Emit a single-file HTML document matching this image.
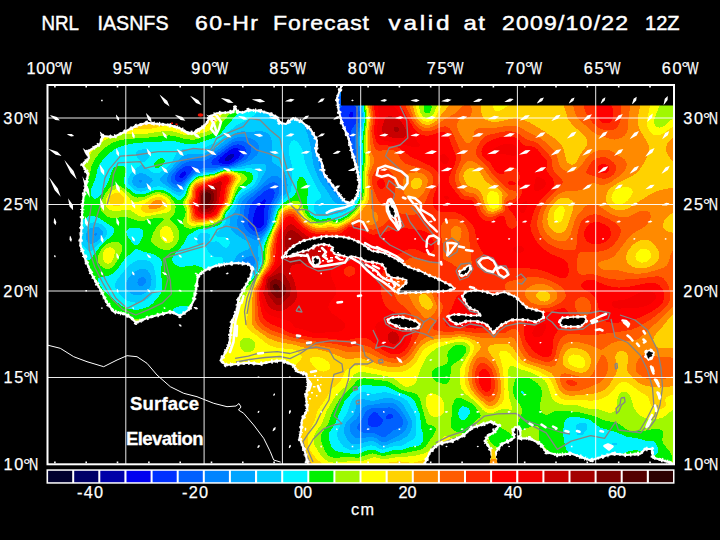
<!DOCTYPE html>
<html lang="en"><head><meta charset="utf-8"><title>NRL IASNFS 60-Hr Forecast Surface Elevation</title>
<style>html,body{margin:0;padding:0;background:#000;}body{width:720px;height:540px;overflow:hidden;}svg{display:block;}text{font-family:"Liberation Sans",Arial,sans-serif;fill:#fff;}.t{font-size:20px;stroke:#fff;stroke-width:.45px;}.a{font-size:16.3px;stroke:#fff;stroke-width:.25px;}.d{font-size:19px;stroke-width:.1px}.b{font-size:18.5px;font-weight:bold;stroke:#fff;stroke-width:.3px;}.g{stroke:#fff;stroke-width:1;fill:none;opacity:.92}.c{fill:none;stroke:#fff;stroke-width:2.1;stroke-linejoin:round;stroke-linecap:round}.k{fill:none;stroke:#858585;stroke-width:1.3;stroke-linejoin:round}.l{fill:#000}</style></head><body>
<svg width="720" height="540" viewBox="0 0 720 540">
<rect width="720" height="540" fill="#000"/>
<defs><clipPath id="m"><rect x="47" y="85" width="627" height="379"/></clipPath></defs>
<g clip-path="url(#m)">
<g shape-rendering="crispEdges" fill-rule="evenodd"><rect x="47" y="85" width="627" height="379" fill="#0000a8"/>
<path fill="#0000f0" d="M43 81l634 0l0 386l-634 0zM229 155l-4.2 4l0.7 2l3.1 0l2.4 -1.5l2.6 -2.5l0.9 -2l-1.5 -1.6z"/>
<path fill="#0030ff" d="M43 81l634 0l0 386l-634 0zM181 172.9l-1.4 2.1l-0.2 2l1.6 1.1l2.9 -1.1l1.6 -2l0.4 -2l-0.9 -1.6l-2 0.3zM233 148.4l-4.6 2.6l-7.5 6l-1.8 2l-0.8 2l1.4 2l5.3 1.4l4 -0.5l5.7 -2.9l4.5 -4l1.8 -4l-0.2 -2l-1.5 -2l-2.3 -1zM265 199l-4 2.9l-2.9 3.1l-2.4 4l-1.3 4l-1.4 6l0.2 4l1.8 3.3l2 1.4l2 0.4l3.1 -1.1l1.7 -2l0.7 -2l-0.2 -14l1.4 -8zM339 144.4l-2 2.8l-1.3 3.8l-0.7 4l0.1 4l0.8 4l1.7 4l1.4 2.2l2 1.6l2 0.4l2 -1.2l4 -5.9l0.8 -3.1l-0.3 -4l-2.5 -7.5l-2 -3.7l-2 -2l-2 -0.4zM351 111.6l-1.3 1.4l-0.7 2l0.3 2l1.7 1.3l2 -1.3l0.5 -2l-0.5 -2.7z"/>
<path fill="#0060ff" d="M43 81l634 0l0 386l-634 0zM185 166.4l-6 3.9l-3.7 4.7l-0.7 2l0.1 2l2.3 2.8l2 0.5l2 -0.3l4 -2.6l8.5 -10.4l0.7 -2l-3.2 -1.5zM235 144.6l-6 2.8l-15.2 11.6l-1.8 2l-0.8 2l1.6 2l12.2 0.9l4 -0.3l6.6 -2.6l6 -4l2 -2l2.1 -4l-0.2 -4l-1.2 -2l-2.9 -2l-2.4 -0.6zM269 188.8l-4 2l-9.5 8.2l-3.7 4l-2.1 4l-1.8 10l0 6l1.1 3l2 2.9l4 2.8l2 0.4l4 -0.8l4 -3.4l1.4 -2.9l1 -4l1.2 -12l1.2 -4l4 -8l0.9 -4l-0.3 -2l-1.4 -2l-2 -0.5zM343 104.8l-3.3 4.2l-6.7 18.2l-4 15.8l-0.8 12l1.5 10l1.3 4l3 6l3 4.6l4 4.6l4 2.6l2 0.2l2 -0.8l2 -3.2l-0.8 -10l3 -8l0.7 -4l-0.4 -6l-2.7 -14l-0.3 -8l1.5 -4l3 -4.2l2 -4.7l0.7 -7.1l-0.8 -4l-1.9 -2.8l-2 -1.6l-4 -1.4l-2 0zM373 412.4l-2.9 2.6l-1.9 4l-0.5 4l0.8 2l2.5 1.5l2 0.4l4 0l2 -0.6l2 -1.3l1.3 -2l0.8 -2l-0.2 -2l-1.9 -1.5l-4 -4.8l-2 -0.7zM387 415l-1.3 2l1 2l4.3 -0.5l2.6 -1.5l-0.5 -2l-2.1 -1.3l-2 0.1z"/>
<path fill="#0084ff" d="M43 81l634 0l0 386l-634 0zM237 140.9l-4 1.3l-4 2.3l-10 7.6l-14 8.6l-4 0.8l-10 -0.5l-4 0.9l-4 1.9l-6 5l-5.2 6.2l-1.2 4l0.5 2l1.5 2l2.4 1.7l4 0.8l4 -2l10 -10.3l10 -5.1l4 -0.4l6 0.6l8 -1.2l8 -0.2l6.3 -1.9l8.2 -4l2.7 -2l3.7 -4l1.6 -4l-0.6 -4l-1.9 -2.7l-4 -2.6l-4 -1zM271 182.6l-6 3.4l-15.4 13l-2.6 2.7l-1.8 3.3l-2.5 16l0.6 4l2.2 4l1.8 2l3.7 2.9l4 1.8l2 0.1l4 -1.6l4 -3.6l2 -2.8l2 -5.7l2.7 -15.1l7.1 -14l0.7 -4l-0.9 -4l-1.6 -1.8l-2 -0.9zM335 96.8l-3.5 2.2l-3.3 4l-1.9 4l-1.6 6l-1.2 10l-0.8 14l-0.2 12l0.7 10l1.1 6l1.9 6l5.4 10l4.4 6l3.6 4l3.4 2.3l4 0.7l2 -0.6l3.2 -2.4l1.4 -2l1.4 -4l0.3 -4l-1.9 -8l2.5 -8l0.6 -6l-2 -20l1.1 -6l3.6 -12l0.5 -4l-0.2 -6l-0.5 -2.7l-2 -4l-2 -2.4l-4 -3.1l-4 -2l-4 -1l-4 -0.1zM371 408.4l-4.4 2.6l-1.6 2.1l-4 7.7l-3.1 4.2l-0.7 2l0.3 2l1.5 2l4 1.5l12 0.9l8 4l2 -0.2l8 -6.5l6 -2.4l2 -1.1l1.8 -2.2l0.7 -2l-0.7 -4l-5.8 -8l-4 -2.8l-4 -0.8l-6 0.6l-6 -0.5z"/>
<path fill="#00a4ff" d="M43 81l634 0l0 386l-634 0zM95 232.8l-1.2 2.2l1.2 0.8l2.1 -0.8l0 -2zM139 180.7l0 0.9l2 1.4l1.8 -2l-1.8 -1.2zM143 277l-2 0.3l-2 1.3l-1.4 2.4l-0.3 2l1.7 2.7l2 0.5l2 -0.4l2.7 -2.8l0.4 -2l-0.5 -2zM239 136.7l-6 2.1l-16 11.7l-12 6.3l-4 1l-12 -0.1l-6 2.5l-4 3.2l-10.9 11.6l-1.5 4l0.3 2l1.3 2l4.8 4l4 1.7l2 0.1l2 -0.8l2 -1.8l10 -11l6 -3.2l6 -1.6l8 -0.2l8 -2l8 -0.3l4.5 -0.9l9.5 -3.1l9.6 -4.9l4.5 -4l2.1 -4l0.2 -4l-1.8 -4l-2.6 -2.4l-6 -2.8l-6 -1.3zM271 176.6l-4 2.5l-10 10.2l-12 8.8l-2.8 2.9l-1.5 4l-0.7 8l-3.5 8l0.4 4l1 2l3 4l6.1 4.9l8 4.2l2 -0.2l4 -2.6l4 -4.2l2.8 -4.1l3 -8l1.8 -10l1.3 -4l7.4 -12l1.7 -4l0.6 -6l-0.6 -2.8l-2 -3.6l-4 -2.6l-2 -0.3zM331 86.9l-6 1.9l-5.6 4.2l-3.9 6l-1.8 6l-0.4 10l4.7 44l1.6 8l2.1 6l3 6l4 6l6.3 8.5l4 4l4 1.9l4 0.2l4 -2.1l2 -1.8l3.1 -4.7l1.2 -4l0.2 -8l-1.6 -6l2.4 -10l0.2 -6l-1.4 -18l3.9 -18.3l0 -10.5l-1.4 -5.2l-2.6 -4.5l-4 -4.8l-4 -3.4l-4 -2.6l-4 -1.8l-6 -1.2zM385 402.8l-18 2.7l-4 2l-2 2.8l-3.1 6.7l-1.7 2l-5.1 4l-1.1 2l-0.4 2l0.4 4l3 5l2 1.6l4 0.9l10 -1.4l4 0.1l4 1.4l4 3.1l2 0.7l4 -1l12.8 -6.4l5.2 -4l2.2 -4l0.6 -4l-0.3 -2l-1.8 -4l-5.2 -8l-3.5 -3.9l-2 -1.2l-4 -1.2zM247 256.9l-4 2.9l-2 2.9l-0.7 2.3l-0.1 2l0.8 2.4l1.5 1.6l2.5 0.8l4 -0.6l2 -1.2l2 -2.3l1.9 -4.7l0 -4l-1.9 -2.6l-2 -0.5z"/>
<path fill="#00ccff" d="M43 81l269 0l-7.2 8l-4.6 8l-1.9 8l0.1 4l0.8 4l8.7 22l2.8 12l2.7 18l4.4 12l3.4 6l6 8l6 10l2.6 2l3.2 1.4l6 1.3l4 -1.4l4 -3.8l4 -5.8l2 -5.5l0.5 -8.2l-1.4 -8l1.9 -10l0.3 -8l-1.2 -14l0.3 -4l2.2 -10l1.1 -12l-1 -8l-2.7 -7.1l-6 -9.3l-9.3 -9.6l333.3 0l0 386l-634 0zM95 226.7l-4 1.3l-2 1.4l-2 2.4l-1.2 3.2l0.3 4l0.9 2l2 2.3l2 0.8l2 -0.3l4 -2.6l4 -3.6l1.6 -2.6l0.4 -2l-0.5 -2l-1.4 -2l-2.1 -1.5zM137 174.1l-3.4 2.9l-1.6 4l0.3 2l1.3 2l3.4 2.4l4 0.9l4 -0.7l4.2 -2.6l3.5 -4l-0.4 -2l-7.3 -5.1l-4 -0.9zM237 132.3l-6 3.6l-14 11.1l-12 6.2l-4 1.1l-12 -0.5l-6 2l-4 3.3l-6.8 7.9l-12.4 12l0.4 2l5.1 4l9.7 6.1l4 1.2l2 -0.6l2 -2.1l4.5 -6.6l5.3 -6l2.2 -1.6l4 -1.8l6 -1.5l10 -0.7l6 -2.2l8 -0.4l10 -1.6l16 -3.7l8 0l3.2 1.5l0.4 2l-1.1 4l-6.6 12l-3.9 4.5l-12 8.1l-3.5 3.4l-1.8 4l-1.4 6l-1.3 2.4l-3.9 3.6l-1.2 4l-0.5 6l1.6 4.2l6 5.9l12 7.6l1.8 2.3l-0.1 2l-1.7 1.9l-8 3.4l-3.5 2.7l-2.5 3.7l-1.8 4.3l-1 6l1.1 4l1.4 2l2.3 1.7l4 0.9l4 -0.5l6 -2.7l3.5 -3.4l2.2 -4l1.5 -4l0.6 -4l-1 -8l0.3 -4l1.8 -4l9.2 -14l3.1 -8l2.7 -12l2.1 -4l8.9 -12l1.3 -4l0.4 -4l-0.6 -6l-2 -6l-4 -4.9l-7.6 -5.1l-1.5 -2l0.2 -18l-1.1 -5.1l-2 -3.5l-4 -2.6l-4 -0.6l-10 0.5l-10 -0.3zM381 398.8l-8 2.4l-10 -2l-2 0.2l-2.3 1.6l-2.1 4l-3.1 10l-6.5 6.5l-1.9 3.5l-1 4l0.2 4l1.6 4l2.2 4l2.9 2.8l2 0.7l4 -0.1l10 -2.8l6 -0.5l2 0.6l6 3.9l2 0.4l2 -0.3l6 -2.7l10 -2.9l6 -3.9l2.7 -3.2l2 -6l0.2 -4l-0.6 -4l-8.3 -14.5l-3.8 -3.5l-6.2 -2.5l-6 -0.8zM141 268.7l-4 1.5l-4.1 2.8l-3.7 4l-3.3 6l-0.3 4l2.2 4l3.2 2.6l4 1.6l6 -0.2l4 -1.8l4 -3.8l2.2 -4.4l0.4 -6l-1 -4l-1.6 -3l-2 -2.1l-2 -1z"/>
<path fill="#00f4ff" d="M43 81l249.1 0l-1.2 2l-9.9 11.4l-8 7.7l-14 9.3l-10 7.7l-12 5.9l-6 4.8l-8 8l-6 4.3l-16 7l-18 0.2l-4 1.1l-2 2l-4.3 8.6l-2.8 4l-6.9 5.6l-4 2.2l-4 0.4l-4 -1.6l-7.6 -6.6l-0.4 -1.3l-10 6.9l-3.2 4.4l-1.7 4l-0.1 4l1 2l4 3.9l4 2.1l4 0.7l4 -0.6l10 -4.4l4 -0.4l6 1.8l12 7.2l2 0.7l2 -0.3l2 -1.6l4.5 -9.1l4.9 -6l2.6 -2.2l4 -1.8l6 -1.4l10 -1l8 -3l28 -1.4l3.3 0.8l2.6 2l0.9 2l0 4l-2.6 6l-4.1 4l-8.1 4.9l-4 3.6l-2.3 3.5l-3 8l-5.5 6l-2.4 8l-1.9 4l-2.9 3.8l-5.2 4.2l-0.7 2l1.9 1.5l8 0.3l3.2 2.2l1.3 2l0.2 2l-0.7 2.3l-2 2.1l-2 0.5l-6 -5.4l-2 -1.2l-6 0.5l-1.7 -0.8l-0.3 -2l1.4 -4l-3.2 -2l-4.2 -0.4l-2 0.4l-2.5 2l-2 4l0.5 4l2 1.5l6 1.3l1.2 1.2l3 6l1.9 2l3.9 2l6 0.1l2 0.9l-0.8 11l0.7 4l1.8 4l1.4 2l2.9 2.4l4 1.7l4 0.3l6 -1.4l6 -3.2l4 -3l4 -4.9l2.7 -5.9l1.2 -4l0.3 -10l1 -6l1.5 -4l8.4 -16l4.4 -16l4.5 -6.2l7.7 -7.8l2.1 -4l0.9 -6l0.4 -16l-0.4 -4l-2.5 -10l-0.5 -6l0.8 -4l1.5 -3.1l1 -0.9l1 -0.7l2 0l2 1.1l4 5.1l2 4.6l1.2 7.9l1.6 6l9.5 20l5.8 10l-0.1 2.2l-6 5.6l-1 2.2l-0.2 4l0.7 2l2.5 3.2l2 1.4l4 0.8l22 -4.3l6 -4l6 -8.8l2.2 -4.3l1.6 -6l0.2 -8l-0.9 -10l1.4 -8l0.4 -8l-1.1 -14l2.9 -20l0.2 -6l-0.9 -8l-2 -6.9l-4 -9.1l-5.6 -10l325.6 0l0 386l-634 0zM91 222.8l-4.4 2.2l-4.5 4l-2.1 4l-0.5 4l0.9 4l2.3 4l4.3 4.7l2 1.3l2 0.1l2 -1.1l10.9 -11l2.8 -4l0.5 -2l-0.8 -4l-1.6 -2l-3.8 -2.9l-6 -2zM145 148.9l-6 1.2l-1.8 0.9l-1.5 2l0.1 2l1.2 2l4 4.5l2 1.2l2 -1.2l4 -4l2 -4.5l-0.4 -2l-1.6 -1.2zM137 260.4l-4 1.9l-6 5.1l-9.5 11.6l-2.2 4l-0.4 2l0.1 2l1.7 4l5.4 6l6.1 4l6.8 1.6l4 -0.2l4 -1.1l4 -2.1l2.7 -2.2l4.6 -6l1.5 -4l0.5 -4l-0.4 -6l-1.5 -8l-1.1 -4l-1.2 -2l-2.9 -2l-4.2 -1l-4 -0.2zM361 392.4l-4 1.9l-4.3 4.7l-2.1 4l-3.3 10l-6.3 10l-3.4 8l-0.5 4l1.1 4l2.2 4l3.5 4l5.1 2.5l6 0.4l4 -0.8l8 -3.1l4 -0.7l4 0.8l4.8 2.9l3.2 0.7l8 -3.1l10 -0.6l13 -7l1.3 -2l0.4 -2l0.5 -12l-0.4 -6l-2.3 -6l-4.5 -7.7l-2 -2.4l-2.2 -1.9l-3.9 -2l-7.9 -2.9l-6 -1.6l-4 -0.2l-10 1.7l-8 -1.7zM581 422.5l-1.8 0.5l-2.2 1.6l-1.4 2.4l-0.1 4l0.8 2l0.7 1.2l2 1.3l2 -0.1l2 -1.1l4 -4.9l0.6 -2.4l-0.5 -2l-2 -2zM613 442.6l-1.2 0.4l0.8 2l4.1 0l0.3 -2z"/>
<path fill="#00f000" d="M43 81l230.9 0l-3.2 4l-8.5 8l-25.2 21.4l-10 11.2l-5.8 7.4l-2.2 2l-4 2.4l-20 6.8l-8 -0.1l-14 -3.2l-32 1.7l-6 0.5l-9.1 1.9l-6.5 2l-4.4 2l-8 6.1l-3.7 3.9l-2.7 4l-3 6l-2.2 10l-4.2 10l-0.1 6l1.9 3.2l2 0.5l2 -0.6l2 -1.3l3 -3.8l6.6 -12l3.2 -10l1.1 -2l2.1 -2l4 -1.5l4 0.3l2 1.2l1 2l0.2 2l-2.4 8l0.1 4l2.8 4l6.3 5.4l4 1.8l6 0.3l4 -1.2l8 -3.4l6 -0.3l4 1.3l4 2.1l8 6.4l2 0.8l2 -0.6l4 -4.5l2.8 -8.1l3.2 -4.9l4 -3.9l4 -2l16 -2.6l6 -2.6l4 -0.8l18.5 0.8l5.5 1l2.1 1l1.6 2l0.5 2l-0.9 4l-1.3 2l-8 4.8l-4 3.6l-3.4 5.6l-3.2 8l-6.5 8l-1.8 6l-2.6 4l-2.5 1.9l-4 1.7l-6 1.3l-10 1.1l-10 5.5l-2.2 2.5l-4 8l-8.7 10l-1.9 4l0.1 2l1.2 2l2.3 2l3.2 1.5l4 0.3l12 -1.6l6 1.8l4.7 4l7.5 12l3.8 4l6 2.8l6 0.7l6 -0.5l6 -2.2l10 -7.5l6 -6.5l3.7 -6.8l1.5 -4l0.8 -4l0.6 -10l1.4 -6l9 -20l3.2 -12l3.8 -5.7l4 -3.4l7.3 -4.9l2 -2l2 -4l1 -10l1.7 -3.4l2 -0.8l2 0.7l2 2.1l1.7 3.4l1.4 8l-1.2 10l1 8l1.1 3.7l1.6 2.3l4.4 3.1l2 1l4 0.7l8 -1.7l6 1.5l4 -0.1l8 -4.2l6 -5.3l2 -2.6l5.5 -10.4l1.7 -6l-0.4 -20l1.5 -12l-0.9 -18l2.8 -24l-2.2 -15.4l-6.5 -20.6l320.5 0l0 386l-634 0zM89 216l-8 4.9l-4.2 4.1l-3.3 6l-1 6l1 6l1.8 4l7.7 11.2l2 1.8l2 0.6l2 -0.4l2 -1.5l10 -13.5l11.5 -10.2l1.9 -4l-0.4 -2l-1.6 -2l-13.4 -9.2l-6 -2.2zM129 228.5l-2.5 2.5l-0.1 2l1.5 4l5.1 6.5l2 1.4l2 0.1l2 -1.5l2.8 -4.5l1.3 -4l0.2 -4l-1.7 -2l-2.6 -0.8l-6 -0.5zM177 307l-3.4 2l-2.8 4l-0.6 2l0 4l1.6 4l3.2 3.6l4 1.9l6 0.2l4 -1.6l4 -3.8l2 -4.3l0.5 -4l-1.1 -4l-1.4 -2l-2 -1.5l-4 -1.4l-6 -0.1zM359 386.6l-6 5l-8.3 9.4l-9.4 22l-6.2 10l-0.5 2l0.4 4.6l2 6.3l2 3.2l2.8 1.9l3.2 0.9l14 2l6 -0.3l8 -3.1l4 -1l4 0.6l6 2.7l2 0.2l10 -2.7l8 0l10 -3.5l8 -1.1l2 -1.3l1.8 -3.4l0.6 -4l-0.5 -4l-1.9 -6l-0.8 -12l-4.7 -12l-2.6 -4l-2.6 -2l-3.3 -1.6l-8 -2.9l-10 -4.9l-4 -1.3l-20 -1.2l-4 0.6zM463 406.3l-2 0.7l-1.9 2l-0.9 4l0.8 4l2 2.6l2 0.5l2 -0.7l2.5 -2.4l2.4 -4l0.1 -2l-0.8 -2l-2.2 -1.9zM521 390.8l-0.4 2.2l2.4 1.1l1.1 -1.1l-1.1 -1.4zM571 416.6l-2 0.6l-2.8 1.8l-2 4l-1.2 8l0.7 8l1.3 7l2.1 5l3.9 4.3l6 3.4l10 2.2l6 0.2l8 -0.6l12 -2.8l16 -6.4l6 -1.3l6 1.2l10 3.9l4 0.1l2.8 -2.2l0.6 -2l-0.6 -4l-2.8 -4.6l-2 -1.2l-6 -0.2l-8 -2.4l-12 -1.8l-12 -5.1l-14 -3.7l-4 -2.4l-5.4 -4.6l-3.8 -2l-10.8 -2.2zM135 249.5l-10.4 9.5l-6.9 10l-2.7 3l-6 3.7l-8 1.6l-2 0.6l-1 1.1l0.7 4l3.9 6l3.8 4l12.6 10.8l4 2.9l4 1.8l8 1.3l4 -0.3l6 -1.4l4 -1.8l4 -3.1l6.9 -8.2l1.7 -4l0.8 -6l-1.7 -14l1.3 -8l-0.3 -2l-1.2 -2l-3.5 -2.9l-4 -2l-10 -2.7l-6 -2.3zM158.9 159l2.1 -0.7l2 0l1.1 0.7l0.7 2l-0.8 2l-1.6 2l-3.4 2.5l-2 0.4l-2 -0.5l-1.2 -2.4l0.6 -2l1.6 -2z"/>
<path fill="#a0f800" d="M43 81l215.8 0l-3 4l-20.8 22.1l-6.1 7.9l-5.9 6.4l-6 8.6l-2 1.8l-4 2.3l-14 5l-4 0.7l-8 -0.7l-10 -3l-6 -0.7l-20 2.1l-22 1.5l-6 1l-6 1.8l-4 1.9l-5 3.3l-7 6.4l-5.2 7.6l-2.5 6l-2.1 10l-5.2 12l-5.1 16l-3.2 6l-6.7 10.1l-3.6 7.9l-1.3 6l0 8l1.5 8l4.5 16l2.8 8l2.8 6l3.3 5l4.4 5l7.6 6.1l16 9.1l12 8l4 2l6 1.8l16 1.6l4 1.1l4 2.7l8.1 9.6l5.9 5.1l8 3.8l8 1.2l6 -0.8l4 -1.4l4 -2.1l4 -3.2l4 -4.6l2.5 -4l6.2 -14l3.7 -6l5.6 -4.5l18 -8.8l4 -3.8l12 -13.7l4.3 -7.2l2.6 -6l0.8 -4l0.6 -10l2.1 -8l7.8 -18l3.4 -12l4.4 -5.2l4 -2.6l4 -1.5l6 -1l2 0.5l2 1.5l1.4 2.3l3.2 8l2.7 4l6.2 4l4.5 1.4l2 0.1l6 -2.1l2 -0.1l6 1.9l4 -0.2l9.2 -5l6.6 -6l1.5 -2l5.5 -10l1.8 -6l-0.4 -20l1.6 -12l-0.8 -22l2.3 -20l-0.1 -4l-1.9 -14l-3.6 -20l316.3 0l0 386l-13.3 0l3.3 -1.5l3.2 -2.5l1.4 -2l0.8 -4l-1.5 -4l-8.1 -10l-0.5 -4l1.3 -6l-1 -2l-1.6 -1.2l-2.2 -0.8l-3.8 -0.4l-12 2.5l-14 -0.6l-3.3 -1.5l-4.7 -3.7l-4 -2.3l-12 -2.5l-12 -4.8l-16 -3.9l-20 -1.3l-4 1.2l-4 2.4l-2 0.6l-2 -0.1l-2 -1.2l-2 -2.3l-1.5 -4.1l2.4 -12l-0.2 -4l-1.3 -4l-3.3 -4l-6.1 -4.2l-4 -1.4l-6 -0.6l-4 0.8l-1.3 1.4l-1.7 4l-1.1 6l0.2 4l1.3 4l5.8 8l1.7 4l-0.1 4l-3.6 10l0.8 5l2 1.7l2 0.1l10 -3.9l4 -0.2l2 1.3l0.6 2l-0.9 8l0.9 4l1.1 2l7.2 8l5.9 8l7.4 8l-518.2 0zM361 378.6l-4 2.1l-7.2 8.3l-6.8 6l-3.5 4l-7.8 14l-3 10l-6.8 10l-1.1 4l0.3 4l3.8 10l2.8 4l3.3 2.1l4 0.7l12 -0.7l12 0.6l10 -3.6l4 -0.7l8 2.2l4 0.2l8 -1.7l8 -0.5l18 -3.4l3.4 -1.2l2.8 -2l8.4 -12l2 -4l0.2 -2l-0.9 -2l-1.9 -1.2l-4 -0.9l-2.4 -1.9l-6.8 -24l-2.1 -4l-3.1 -2l-9.6 -2l-4 -1.4l-10 -6.7l-4 -1.8l-22 -2.7zM427 100.8l-2 1.8l-1.5 4.4l0.7 4l0.8 1.4l2 1.2l2 -0.4l1.8 -2.2l0.9 -4l-0.7 -4.4l-2 -1.9zM457 344.8l-4.9 2.2l-3.9 4l-0.8 4l0.4 6l-0.8 2.2l-2.4 1.8l-9.6 3.3l-2.5 2.7l-0.7 2l0.3 4l1.1 2l3.8 3l6 2l2 0.1l2.9 -1.1l1.1 -1.3l1 -2.7l1.2 -12l1 -2l8.8 -6.2l4.5 -5.8l0.9 -4l-1.4 -2.6l-4 -1.8zM493 426.3l-2.3 2.7l-2 6l0.3 4l2.2 4l3.8 3.2l6 1.9l6 -0.7l3.9 -2.4l1.5 -2l1 -4l-0.4 -2l-1.3 -2l-5.1 -4l-7.6 -4.4l-4 -1zM457 398l-2 1.2l-2.5 5.8l-1.8 22l1.2 2l5.1 3l4 1.1l4 -0.2l4 -2.1l2 -2.6l2.4 -5.2l1.6 -2.1l5.4 -3.9l0.2 -2l-5.2 -8l-4.1 -4l-8.3 -4.2l-4 -1zM223.9 171l9.1 0.3l7.8 1.7l4 2l1.9 2l0.2 2l-1.2 2l-6.7 5.7l-2 2.8l-6.4 15.5l-5.6 6.7l-2.9 7.3l-1.1 1.7l-4 2.8l-8 2l-10 1.2l-8 2l-4 -0.4l-2 -1.1l-1.8 -2.2l-0.5 -2l0.8 -4l1.8 -4l0.4 -4l-2.5 -6l-0.1 -2l0.4 -2l3.5 -6l1.4 -6l2.6 -5.1l4 -4.3l4 -2.1l16 -2.9zM113 185.6l4 -0.7l4 1.4l12 9.8l4 1.5l6 -0.4l12 -4.7l4 -0.6l6 1.5l5.4 3.6l4.4 6l0.9 4l-1 6l-1.7 2.9l-3.2 3.1l5.2 5.3l1.9 2.7l1.9 4l0.7 4l-1.1 6l-3.4 5l-2 1.7l-4 2.1l-4 0.4l-6 -2.2l-4.9 -3l-2.1 -2l-0.8 -2l0 -2l2 -6l3.8 -6.5l5.8 -5.5l1.2 -2l-1 -0.6l-2 -0.8l-2 -0.1l-9.1 1.5l-6.9 2.1l-4 0.1l-14 -4.6l-10 1.6l-4 -0.2l-4 -1.6l-4 -3.4l-1.5 -2l-1.4 -4l0.1 -2l1.3 -4l4.2 -8l3.3 -4.5zM108.9 243l6.1 -1.6l4 1l2.5 2.6l0.9 4l-1.3 4l-6.4 12l-3.7 3.4l-4 0.7l-4 -1.5l-3.1 -2.6l-1.4 -2l-0.7 -4l0.7 -4l2.7 -6l3.8 -3.8zM629.5 457l3.5 -1.4l4 0.1l3 1.3l11 7l7.1 3l-43.6 0l2.4 -2z"/>
<path fill="#ffff00" d="M43 81l203.7 0l-1.1 2l-14.6 18.7l-17.9 25.3l-2.1 2.1l-4 2.3l-10 3.2l-6 0.6l-8 -0.7l-10 -3.1l-6 -0.8l-20 3l-24 0.7l-6 1l-6 1.9l-6 2.9l-4.3 2.9l-8.5 8l-5.2 8l-6.7 18l-20.2 40l-3.3 8l-1.8 6l-1.2 8l0 10l1.2 10.8l2.4 11.2l2.6 8l3.8 8l4 6l5.2 6l6 5.2l8 5.3l28 15.1l23.8 10.4l17 12l6.7 4l10.5 4l10 1.4l6 -0.3l5.7 -1.1l9.7 -4l8.6 -6.6l7.7 -9.4l3.3 -6l3.9 -10l3.1 -6l5.6 -8l8.4 -7.7l4.3 -8.3l7.7 -10.4l6.9 -11.6l2.1 -6l0.9 -12l2 -8l2.9 -8l4.6 -10l2.7 -10l1.9 -3.1l2 -2l4 -2.4l4 -1.1l4 0.1l2 0.6l2 1.3l2 2.5l3 6.1l3.1 4l6.4 4l3.5 1.3l4 0.6l2 -0.4l4 -2l2 -0.1l6 1.9l2 0l4 -1.3l8 -4.6l6.1 -5.4l3.2 -4l5.6 -10l1.4 -6l-0.7 -20l1.8 -12l-0.9 -12l0 -10l2.1 -22l-1.7 -12l-1.4 -24l307.4 0l-1.6 4l-9.3 17.3l-6 14.7l-1 4l0.8 4l2 2l2.2 0.6l2 -0.2l4 -2.1l10 -8.8l2 -1.2l0 292.2l-6 3.6l-6 5.1l-4 2.1l-8 1l-8 -1l-4 -2.3l-5.1 -5l-2.4 -4l-2.7 -10l-3.2 -4l-2.6 -1.2l-2 0l-2 0.9l-2.1 2.3l-1.5 4l0.1 8l-0.7 2l-1.8 2.2l-4 1.7l-4 -0.6l-8 -2.8l-12 -1.1l-10 -3.1l-10 -0.1l-6 -1l-6 -2.7l-2.4 -2.5l-1.8 -4l-3.1 -10l-2.6 -4l-2.3 -2l-10.2 -6l-11.6 -3.6l-8 -3.3l-2 -0.1l-2 1.5l-0.9 3.5l0.2 18l1.1 10l3.2 10l-1.6 1.6l-4 -1.8l-4 -0.2l-10 4.2l-4 0.4l-2 -0.5l-4 -2.6l-8 -8.6l-10.4 -8.5l-2.9 -4l-0.8 -2l-0.9 -4l-0.5 -6l0.8 -8l1.5 -4l7.3 -12l1.2 -4l-0.1 -2l-1.1 -2l-2.1 -1.7l-4 -1.5l-4 -0.3l-4 0.6l-15.9 4.9l-3.5 2l-6.6 5.1l-2.5 2.9l-3.5 6.7l-3.3 7.3l-2.7 9.2l-1.5 2.8l-2.4 2l-4.1 1.5l-4 0.1l-2 -0.9l-8 -6.6l-6 -2.4l-26 -4.7l-4 0l-4 1.8l-2.9 3.2l-5.1 8.7l-8 6.4l-2.9 2.9l-9.7 16l-4.1 12l-5.7 8l-2.1 4l-1 6l1.1 4l4.6 8l3.1 4l2.7 2.5l4 2.3l6 1.1l14 -1.6l10 0.2l4 -0.7l10 -3.4l2 -0.1l6 1.4l4 0.4l10 -1.6l18 -1.4l10 -2.3l4 -1.6l4.4 -3.2l11.6 -11.8l2 -1l2 -0.1l12 5.9l12 5.2l20 13.1l6 2.7l11.6 4l-465.6 0zM243 338.5l-2.5 2.5l-0.6 2l0.4 4l1 2l1.8 2l3.9 1.5l4 -0.8l2 -1.4l2 -2.8l0.4 -2.5l-0.5 -2l-1.3 -2l-2.3 -2l-2.3 -1l-4 -0.2zM429 84.8l-4 3l-2 2.8l-2.7 6.4l-1.1 6l0.2 6l1.2 4l2.4 3.3l2 1.5l2 0.5l2 -0.2l2 -1.1l3 -4l3.2 -8l1.2 -8l-0.5 -6l-1.8 -4l-1.1 -1.4l-2 -1.2l-2 -0.2zM220.3 173l4.7 -1.4l8 0.7l4 1.3l2.3 1.4l1.5 2l0.1 2l-0.8 2l-3.3 4l-1.8 3.2l-4.2 12.8l-1.8 4l-4.9 6l-3.7 8l-3.4 2.7l-8 2.1l-14 1.8l-4 0l-2 -0.7l-1.8 -1.9l-0.6 -2l0.9 -10l-2.2 -8l0.2 -2l3.2 -6l1.1 -6l1.8 -4l3.4 -3.9l4 -2.3l16 -3.3zM111.3 191l3.7 -1.7l4 0.2l2 0.6l3.9 2.9l6.1 7.1l2 1.4l2 0.5l4 -0.4l4 -1.3l12 -5.5l4 -0.5l3.5 0.7l3.8 2l3.7 4l1.5 4l-0.3 4l-1.4 2l-2.8 1.5l-24 4.4l-4 -0.7l-8 -5.7l-2 -0.7l-4 0l-8 1.3l-6 -0.7l-2 -0.9l-2 -1.9l-1.2 -2.6l-0.3 -2l1.3 -6l2.2 -3.8zM162.9 227l2.1 -1l2 0.1l2 0.8l2 2.1l2 3.9l0.7 4.1l-0.3 2l-1 2l-2.6 2l-2.8 0.4l-2 -0.7l-2.1 -1.7l-2.5 -4l-0.5 -2l0.3 -4l0.9 -2zM105.2 249l3.8 -1.7l2 0l2.9 1.7l0.9 2l-0.4 4l-1.4 4.1l-2 3.3l-2 1.2l-2 0l-2 -1l-2.2 -3.6l0 -6zM427.6 395l1.4 -1.2l2 -0.5l4 0.5l4 2l3.1 3.2l1.8 4l0.5 6l-1 4l-2.4 2.6l-4 1.2l-4 -0.1l-2 -1l-2 -2.6l-2.5 -6.1l-1 -4l0.3 -4zM630.9 467l2.1 -1.4l2 -0.3l2.9 1.7z"/>
<path fill="#ffd200" d="M43 81l2 0l191.6 0l-27.1 42l-2.5 2.6l-4 2.2l-8 2.1l-8 0.5l-6 -0.9l-10 -3.1l-6 -0.5l-18 3.6l-20 -0.3l-8 0.4l-7.6 1.4l-6.4 2.2l-6 3.1l-6 4.3l-8 8.1l-5.5 8.3l-9.6 20l-18.4 34l-3.5 8l-5 14zM368.5 81l48.3 0l-1.5 18l0.4 6l1.1 6l1.6 4l2.6 3.8l3.1 2.2l2.9 0.9l4.1 -0.9l4.2 -4l8.1 -14l9.3 -22l39.1 0l1.5 10l-0.2 16l1.9 3.4l2 0.8l4 -1l10 -6l12 -4.5l4.2 -2.7l1.8 -2.4l1.3 -3.6l0.3 -4l-0.4 -6l123.4 0l-4.2 28l-2.8 12l0.2 4l1.5 4l2.7 3.7l2 1.6l2 0.9l4 0.2l4 -1.6l8 -5.9l6 -2.6l0 268.8l-6 1.1l-4.5 1.8l-1.3 2l0.7 6l-0.8 2l-4.1 1.9l-4 -0.4l-4.1 -1.5l-2.2 -2l-2.5 -8l-2.4 -2l-4.8 -2.6l-12 -8.8l-4 -1.9l-2 -0.1l-4 1.8l-8 9.3l-4 3.4l-8 3.6l-8 1.1l-12 -1.3l-10 0.6l-4 -0.4l-4 -1.3l-3.8 -3.4l-6 -14l-2.2 -3.2l-2 -1.8l-9.1 -5l-12.9 -4.4l-3.3 -1.6l-5.1 -4l-7.6 -8.2l-3.1 -1.8l-2.9 -0.5l-2.1 0.5l-1.7 2l0 2l3 10l1.1 8l1.3 16l-0.7 10l-1.8 4l-4.7 4l-4.4 2.2l-4 0.2l-4.7 -2.4l-12.5 -12l-3.5 -4l-2.9 -6l-1 -8l0.6 -8l2 -6l6.4 -12l0.8 -4l-0.6 -2l-2.6 -2.8l-4 -2.1l-4.9 -1.1l-5.1 0l-10 2.1l-10 1.2l-6.5 2.7l-5.5 3.6l-2.5 2.4l-5.6 10l-3.9 5.1l-6 4l-6 2.1l-6 0.3l-12 -1.4l-20 -5.2l-4 -0.5l-4 0.4l-3.6 1.2l-3.6 2l-2.2 2l-1.4 2l-3.3 8l-9.9 8.6l-6 10.6l-6.5 8.8l-1.6 4l-2.2 8l-4.4 8l-2.1 6l-0.2 8l0.9 4l1.8 4l5.8 8l9.9 8l-283.4 0l0 -198.2l5.6 16.2l5 10l7.4 10l8.3 8l7.7 5.7l10 6.1l38.1 20.2l25.9 15.4l9.8 4.6l12.2 3.7l12 1.6l14 -0.8l20 -4l6 -0.4l4 0.3l14 3.1l18 1l14 3.1l8 -0.4l6 -2.3l6 -4.4l6.1 -6.5l0.7 -2l-0.9 -2l-1.8 -2l-2.5 -2l-3.6 -1.7l-16 -1.4l-8 -2.9l-4 -2.5l-6.4 -5.5l-8.2 -6l-3.7 -4l-1 -4l2 -8l0 -10l2.6 -12l1.5 -4l5.2 -7.7l9.3 -16.3l1.6 -6l0.5 -10l2.6 -10l2 -6.1l4.6 -9.9l2.1 -8l1.3 -2.8l2 -2.2l2 -1.4l4 -1.6l4 -0.1l2 0.4l2 1l2 1.9l3.9 6.8l2.1 2.6l4 3.2l6 2.9l6 1.1l8 -2.1l6 1.4l2 -0.1l4 -1.3l9.7 -5.7l6.6 -6l7.2 -10l1.7 -4l0.8 -4l-1.1 -20l2.3 -14l-1.4 -12l0.3 -18l1.7 -12l-1.8 -16zM493 191l-2 0.1l-2.7 1.9l-0.9 2l-0.3 4l0.6 4l1.3 3.2l2 2.1l2 0.8l4 -1l1.6 -1.1l0.7 -2l-0.6 -10l-1.7 -2.4zM559 206.5l-4 4.2l-1.5 4.3l0 2l1.5 3.9l2 1.7l2 0.2l2 -1.2l2 -3.2l1.8 -7.4l-0.1 -2l-1.7 -2.9l-2 -0.4zM573 354.4l-2 0.7l-2.1 1.9l-0.8 2l0 2l0.8 2l2.1 2l6 2.7l4 0.5l2 -0.6l1.9 -2.6l0.3 -2l-0.2 -2l-2 -3.4l-4 -2.6zM625 186.9l-4 0.7l-3.4 1.4l-2.6 1.6l-2.2 2.4l-1.4 4l0.2 2l1.4 2.7l2 1.8l4 1l4 -0.9l4.1 -2.6l3.6 -4l1.8 -4l0.1 -2l-1 -2l-2.6 -1.5zM643 248.8l-2 0.4l-3 1.8l-1.6 2l-0.8 2l-0.2 2l0.6 2l1.7 2l3.3 1.5l2 0.1l4 -1.1l3 -2.5l1.2 -2l0.2 -2l-0.4 -1.6l-1.7 -2.4l-2.3 -1.5zM313 356.7l-3.2 2.3l0.3 2l2.9 4.5l4 3.9l3.3 1.6l2.7 0.6l4 -0.7l2.4 -1.9l0.8 -2l-0.2 -2l-1 -2l-1.8 -2l-3.1 -2l-5 -2zM222 173l3 -0.7l6.5 0.7l4.7 2l1.5 2l0.2 2l-4.9 8.7l-3.6 13.3l-1.8 4l-4.8 6l-2.7 6l-3.1 3.1l-4 1.4l-8 1.4l-10 0.8l-4 -0.9l-1.6 -1.8l-0.5 -2l0 -8l-1.9 -8l0.2 -2l3.3 -6l0.5 -6l2 -4l2 -2.2l4 -2.5l16 -4zM114.8 193l4.2 0.1l2.9 1.9l1.5 2l1 4l-0.7 2l-2.4 2l-2.3 0.9l-4 0.2l-3.2 -1.1l-1.8 -2l-0.7 -2l0.8 -4l1.4 -2zM156.1 197l4.9 0.1l3.4 1.9l1.8 2l1.2 4l-0.5 2l-1.9 2l-5.1 2l-8.9 1.9l-6 -0.3l-3 -1.6l-1 -2l0.3 -2l1.4 -2l8.5 -6zM445.2 451l3.8 -0.4l2 0.4l6 2.5l14 8.5l6.4 5l-130.6 0l6.2 -1.2l8 -0.4l14 -2.8l10 0.4l14 -1.7l12 1.4l4 -0.3l14 -3.8z"/>
<path fill="#ff8a00" d="M43 81l2 0l182.4 0l-2 4l-18.4 30.5l-4 4.6l-5.3 2.9l-4.7 1.2l-6 0.4l-4 -0.4l-12 -2.8l-6 -0.3l-20 3.9l-20 -1l-8 0.3l-6 0.8l-6.9 1.9l-7.1 3l-5.3 3l-9.9 8l-8.2 10l-28.6 48.9l-2 2.4zM372.8 81l35.8 0l3.5 22l3.3 12l2.2 4l3.4 3.6l2 1.3l4 1l4 -0.6l5.2 -3.3l18.8 -23.1l4 -3.9l4 -2.4l4 -1l4 0.3l2 0.8l3.9 3.3l2.1 3.6l1.4 4.4l1.4 12l1.2 2.4l2 1.9l4 1.9l6 0.9l6 -0.8l10 -2.7l6 -0.3l6 1.3l6 2.6l14 8.2l12 8.4l4.9 4.2l1.7 2l2.1 4l2.6 12l1.4 2l3.3 1.7l2 -0.1l2 -1l2 -2.3l3.1 -6.3l6.9 -10l0.4 -4l-0.7 -2l-3.1 -4l-11 -10l-4.6 -6l-7.9 -24l-1.8 -8l-0.7 -6l83.2 0l0 18l-0.8 8l-2 10l-0.2 6l0.9 4l1.6 4l6.4 10l1.8 4l0.6 4l-0.7 4l-4.1 10l-5.8 8l-4.7 4l-3.3 2l-13.5 6.6l-6 3.9l-3.1 3.5l-1 2l-1.3 6l1.1 4l1.3 2l3 2.8l6 2.7l6 0l6 -2.6l18 -11.6l8 -4.4l8 -2.5l14 -2.4l0 23.9l-6 3.1l-4 3.1l-3 3.9l-1.2 4l0.2 2l1 2l2.6 2l4.4 1.4l6 1l0 78.4l-6.9 5.2l-7.1 9.1l-6.4 6.9l-2.7 4l-1 4l0.4 2l1.1 2l2.5 2l2.1 0.8l4 0.6l8 -0.4l6 0.4l0 36.4l-10 2.3l-8 0.5l-12 -1.4l-4 -1.2l-4 -2.1l-5.1 -3.9l-5.6 -6l-1.6 -4l1.5 -10l-0.5 -4l-1.2 -2l-1.5 -1.3l-4 -0.9l-2 0.6l-2 1.4l-1.3 2.2l-0.5 2l2.1 12l-0.9 4l-7 12l-3.6 4l-4.8 2.6l-8 2.1l-20 2l-6 -0.3l-4 -1.5l-2.8 -2.9l-2.1 -4l-3.8 -10l-3.1 -4l-8.4 -4l-17.8 -6.3l-4.4 -3.7l-7.6 -11.1l-4 -3.4l-4 -0.9l-8 0.1l-6 1.4l-2.8 1.9l-0.6 2l2.1 4l5.7 8l3.4 8l1.2 6l1 10l-0.1 8l-1.7 6l-2.7 4l-3.5 2.7l-4 0.4l-4 -2.3l-9.3 -8.8l-3.5 -4l-2.9 -6l-0.9 -4l-0.2 -6l0.6 -6l1 -4l3.7 -8l6.6 -8l0.7 -2l-0.6 -2l-1.8 -2l-2.7 -2l-6.7 -3l-6 -1.4l-4 -0.2l-12 1.8l-10 0.5l-6 1.5l-6 3l-4 3.3l-2.1 2.5l-5.9 9.4l-4 4.1l-4 2.4l-4 1.4l-8 1.1l-10 -1.5l-20 -7.3l-4 -0.4l-10 0.6l-4 -0.3l-13.8 -5.5l-10.2 -2.8l-6 -1.2l-10 -1.1l-12 -3.5l-14 -2.2l-6 -2l-6 -2.9l-11.4 -8.3l-3 -4l-1.1 -4l1.2 -28l1.3 -4l3.8 -6l2.7 -6l7.4 -12l1.6 -6l0.4 -10l3 -12l2 -6l3.9 -8l2.2 -8l2 -2.9l2 -1.5l4 -1.5l4 0.1l2 0.7l3.4 3.1l3.8 6l2.8 3l4.1 3l5.9 2.7l6 0.8l8 -1.3l8 0.5l4 -1.4l8 -4.4l6.7 -4.9l4.2 -4l7.6 -10l1.3 -4l0.4 -4l-1.8 -20l0.7 -4l1.9 -6l0.5 -4l-2 -10l-0.1 -20l1.8 -14l-1.8 -10l0 -4l1.4 -10zM415 178.2l-1.6 0.8l-1.9 2l-0.7 2l0.1 2l0.8 2l1.3 1.4l2 0.8l2 -0.2l2 -0.9l2 -2l1.3 -3.1l-0.1 -2l-1.1 -2l-2.1 -1.1zM469 168.3l-2 1l-2 1.8l-1.7 3.9l0.5 4l2 4l3.2 3.2l8 2.5l3.1 2.3l2 4l3.6 12l1.3 2.1l2 1.9l4 0.9l4 -1.2l3.3 -1.7l1.2 -2l0.1 -6l1 -6l-0.7 -2l-1.4 -2l-3.5 -3l-10 -5.3l-2 -2.1l-4 -6.9l-2.4 -2.7l-5.6 -2.8zM541 290.6l-2 0.7l-2 1.7l-0.8 2l0.3 2l1.4 2l2.9 2l4.2 0.6l2.1 -0.6l2.3 -2l0.9 -2l-0.1 -2l-1.2 -2l-4 -2.3zM559 198.9l-4.7 4.1l-4.3 6l-1.7 4l-0.9 6l1.2 6l2.3 4l4.1 3.2l4 1l4 -1l2 -1.7l2 -3.3l6.1 -18.2l0.6 -4l-1.3 -4l-3.4 -2.7l-2 -0.6l-4 -0.2zM639 240.8l-6 3.7l-5.1 6.5l-1.9 6l0.6 4l1.1 2l2 2l3.3 1.9l6 1.5l8 -0.7l6 -2.5l4.7 -4.2l1.7 -4l-0.1 -4l-1.7 -4l-4.6 -6.1l-4 -2.6l-4 -0.7zM421 293.9l-2 2.8l-0.2 2.3l0.9 4l1.2 2l2.1 2.2l4 2.3l2 0.2l2 -0.8l1.3 -1.9l0.5 -2l-0.3 -2l-1.5 -3.3l-2 -2.6l-4 -3.1l-2 -0.5zM571 348.1l-4 1.9l-2 2.3l-1.8 4.7l-0.4 6l0.6 2l1.5 2l6.1 3.2l8 2.4l4 0.1l3.8 -1.7l2.8 -4l1.1 -4l0.1 -4l-1.8 -4.8l-3.5 -3.2l-4.6 -2l-5.9 -1.2zM673.1 137l3.9 -1.7l0 30.2l-4 -3.7l-4 -5.2l-2.1 -3.6l-1.1 -4l0.1 -2l1.7 -4zM224.8 173l4.2 0.4l4.5 1.6l1.8 2l0.3 2l-4.6 8.9l-3.7 15.1l-5.6 8l-2.7 5.6l-2 1.9l-2 1.1l-8 1.8l-10 0.5l-4.3 -0.9l-1.7 -2.5l-0.7 -7.5l-1.7 -8l0.2 -2l2.8 -4l0.6 -2l-0.1 -4l1.1 -4l1.8 -2.4l2 -1.5l20 -6.7zM153.3 201l3.7 -1.4l2 0.1l2.5 1.3l1.2 2l-0.2 2l-1.7 2l-3.8 1.7l-4 0.8l-3.2 -0.5l-1.5 -2l0.6 -2zM43 467l0 -163.2l9.4 11.2l6.6 6.6l8 6.6l8 5.6l14 8.4l48 26.7l10 5.1l10 4.1l12 3.7l12 2.3l12 1l26 0.4l12 0.8l56 7.5l5.2 1.2l2.8 1.3l2 1.7l1.9 3l1.8 8l0.5 10l-0.8 16l1.5 12l2.2 6l2.4 4l8.7 10zM434.6 467l6.4 -1.5l4 -0.2l4 0.6l2.8 1.1z"/>
<path fill="#ff5c00" d="M43 81l2 0l173.5 0l-7.5 14.2l-8 12.9l-4.6 4.9l-5.4 3.1l-4 1l-4 0.2l-14 -1.4l-6 -0.1l-16 3l-6 0.7l-20 -1.2l-10 0.5l-12 2.4l-12 5.2l-10 6.8l-9.9 9.8l-7.7 10l-16.4 25.2l-2 2.1zM378.7 81l21.3 0l4.6 10l7.3 22l2.6 6l4.5 5.7l2 1.5l4 1.6l4 0.1l6 -2.1l10 -6.7l10 -5.6l8 -7.6l2 -1l4 0.2l2 1.6l1 2.3l0.1 2l-1.1 4l-2 2.3l-2 0.8l-6 1l-2 1.1l-1.4 2.8l-0.4 2l0.4 4l1.4 3.4l6 8.9l2 1.7l2 0.2l3 -2.2l1.2 -2l1.2 -8l2.6 -2.4l4 -0.5l12 0l14 -2.2l6 -0.2l4 0.7l4 1.5l8 4.8l10 4.6l5.2 3.7l10.8 10.6l1.7 3.4l2 8l1.8 4l2.5 2.5l4 2l4 0.4l2 -0.4l4 -1.9l4 -3.9l4.6 -6.7l3.4 -3.6l4 -3l6 -2.5l6 -0.4l4 0.7l4 1.9l11.1 6.9l1.8 2l0.8 2l0.1 2l-1 4l-4.8 6l-10 6.9l-4 2l-4 1.2l-4 -0.4l-4 -1.6l-4 0.2l-10 6.6l-4 0.8l-12 0.7l-6 2.5l-4 3l-7.3 8.1l-2.5 4l-1.6 4l-1.2 8l0.3 4l1.2 4l3.1 5.2l6 4.8l6 2.2l4 0.2l2 -0.5l2.8 -1.9l2.6 -4l4.2 -14l2.4 -5l8 -9.2l4 -2.6l2 -0.5l4 0.3l2 0.9l14 9l6 2.5l4 0.8l4 0.1l4 -0.9l8 -4.1l4 -1.3l4 -0.4l4 1.1l1.3 1.3l0.4 4l-1.2 4l-2.7 4l-2.4 2l-9.4 5.2l-4 3.2l-4 4.4l-10 13.2l-4 4.1l-4 2.1l-6.9 1.8l-3.1 1.5l-0.9 0.5l-0.7 2l1.6 2l2.8 2l3.2 1.2l12 -0.1l12 2.8l6 0.7l6 -0.1l6 -0.8l12.9 -3.7l5.1 -2.1l2.1 -1.9l1.1 -2l2.8 -9.5l2 -2.8l4 3.7l0 7.5l-2 3.8l-0.8 3.3l0.5 4l2.3 6.8l0 20.5l-2.9 4.7l-3.3 4l-11.8 11.4l-18 16.5l-4 2.9l-4 0.8l-10 -0.1l-6 0.9l-6 2.2l-8 5.4l-2 0.8l-10 -4.3l-6 -1.8l-10 -2.2l-6 0.3l-4 2l-2.8 3.2l-1.7 4l-2.8 10l-2.2 4l-2.5 1.4l-2 0.2l-8 -1.4l-12 -3.7l-4 -1.9l-2.7 -2.6l-2.7 -4l-6.6 -13.3l-2 -2l-2 -0.4l-8 1.1l-18 0.1l-24 -4.7l-12 1.5l-12 0l-8 1.1l-4 1.4l-4 3l-4 4.7l-6 9.2l-4 4.1l-6 3.1l-4 0.9l-4 0.1l-8 -1.9l-16 -7.9l-4 -1.4l-4 -0.3l-10 1l-4 -0.3l-12 -3.7l-18 -3.4l-12 -1.4l-22 -4.9l-12 -4.1l-9.4 -5.6l-4.2 -4l-1.9 -4l-0.5 -4l-0.3 -24l1.3 -4l3 -5l2.7 -7l7.9 -12l1.6 -6l0.4 -10l3.2 -14l5.4 -12l2.5 -8l2 -2l4.3 -1.8l4 0.4l2 0.9l2 1.9l4.6 6.6l4.3 4l7.1 3.9l6 1.3l8 -0.7l10 0.1l4 -1.6l16 -9.1l2 -0.7l2 0.4l4 4.4l4 2l4 -0.2l3.1 -1.8l1.6 -2l0.7 -4l-0.7 -2l-1.5 -2l-4.8 -4l-0.2 -2l0.9 -6l0 -4l-2.3 -12l-0.5 -10l1.1 -4l3.6 -8l0.3 -2l-0.1 -2l-3.4 -8l-1 -20l1.9 -14l-1.9 -12l1.2 -7.1l2 -6.2zM411 172.8l-4 1.3l-2.9 2.9l-1.4 4l-0.1 6l1.5 6l2.5 4l2.4 1.8l4 0.9l4 -1.1l2 -1.3l4 -3.9l3.8 -6.4l1.2 -6l-1.2 -4l-1.8 -2l-2 -1.3l-6 -1.3zM455 226.2l-2 0.9l-1.6 1.9l-0.8 4l0.4 2.6l2 4.1l2 1.9l2 0.4l2 -1.3l2 -3.6l0.6 -6.1l-0.6 -2.1l-2 -2.2l-2 -0.6zM469 160.6l-2 0.9l-4 4.5l-3.6 7l-0.5 4l0.6 4l3.5 7.2l2 2.6l2 1.3l6 1.1l4 2l2.6 3.8l3.9 10l3.5 4.2l2 0.9l4 0.1l8 -3.2l2 -2l0.9 -8l1.1 -2.1l3.6 -3.9l-7.6 -7.9l-10 -8.2l-8 -11.2l-8 -5.5l-4 -1.7zM535 284.4l-5.9 2.6l-2.3 2l-1.3 2l-0.5 2l0.7 4l3.3 4.1l3.2 1.9l4.8 1.6l8 0.7l6 -1.8l3.5 -2.5l1.8 -2l1 -2l-0.2 -4l-1.1 -2l-3 -2.9l-4 -2.3l-4 -1.3l-6 -0.7zM415 272.2l-4 3.2l-3 5.6l-1.1 6l0.8 6l2.6 6l4.7 8.1l8 9.3l2 1.7l2 0.5l4 -1.9l4 -4.2l1.6 -3.5l0.1 -4l-11.7 -28.9l-2 -2.5l-2 -1.3l-4 -0.7zM574 81l54 0l2.4 12l0.3 10l-2 14l-1 12l-1.2 4l-1.5 2.2l-4 2.8l-6 1.6l-4 -0.5l-10 -3l-4 -1.6l-4 -2.4l-14 -12.5l-2.2 -2.6l-1.8 -3.5l-1.5 -6.5l-0.7 -14zM197 185l28 -11.1l5.8 1.1l2.4 2l0.4 2l-4.2 8l-2.8 14l-1.6 4l-3.3 4l-3 6l-1.7 2l-2 1.2l-10 2.2l-6 0l-4 -0.8l-2.3 -2.6l-2.5 -14l0.5 -2l2.7 -4l0.1 -6l1.3 -4zM43 467l0 -141.4l18 15.5l10 7.1l12 7.4l42 23.4l12.2 6l11.8 5l14 4.6l16 3.6l14 2l34 3.6l20 3.3l15.7 3.9l9.7 4l6.6 4.7l4.4 5.3l3.6 7.1l7.9 20.9l3.5 6l6.1 8zM642.7 355l4.3 -0.3l10 1.8l10 0.2l4 0.7l2.9 1.6l3.1 2.7l0 9.9l-6 5.3l-6 2.1l-14 0.6l-4 -0.5l-4 -1.7l-5.6 -4.4l-1.2 -2l-0.7 -4l1 -4l2.5 -4.8l2 -2.3zM479.4 357l3.6 -0.4l2 0.7l4 2.8l4.1 4.9l2.1 4l1.3 4l1.4 10l-0.2 8l-1.1 4l-1.6 3l-2 2.5l-2 1.3l-2 0.1l-2 -0.8l-8 -6.3l-4.6 -5.8l-2.3 -6l-0.5 -8l1.2 -8l2.5 -6l1.7 -2.3zM593 373l8 -17.4l2 -0.5l2 1.6l2 3.1l1.2 5.2l-0.2 4l-1.1 4l-3.2 6l-2.7 3l-15.8 7l-8.2 2.3l-8 0l-4 -1.7l-2 -1.9l-1.7 -2.7l-1.2 -4l0 -4l0.9 -2.2l2 -1.2l2 -0.2l4 0.5l14 3.6l4 0.2l2 -0.6l2 -1.3z"/>
<path fill="#ff2c00" d="M43 81l2 0l164.1 0l-6.1 11.6l-6 8.4l-4.4 4l-5.6 2.8l-6 1.1l-18 1l-20 3l-22 -0.8l-10 0.4l-12 2.2l-12 4.4l-10.2 5.9l-10.1 8l-9.5 10l-12.2 15.7l-2 1.8zM587.7 89l6.7 -8l15 0l5.6 5.6l3.9 6.4l1.4 4l1.1 6l-0.2 12l-0.9 6l-1.3 3.5l-1.6 2.5l-2.4 2.1l-4 1.3l-4 0l-4 -0.8l-4 -1.6l-6.3 -5l-6.7 -10l-1.6 -4l-0.6 -4l0.8 -8zM386.9 85l2.1 0l4 1.3l2 1.4l3.1 3.3l4.9 8.8l9.6 21.2l2.7 4l3.7 3.7l4 2.1l6 0.5l4 -1l8 -3.3l4 -0.7l2 0.4l2 1.1l2 2.3l2.6 4.9l5.8 14l1.8 6l-0.7 6l-4.3 10l-1.1 4l-0.4 4l1.7 6l3.5 6l3.3 4l1.8 1l8 1l2.7 2l1.4 2l3 8l2.2 4l2.7 2.6l2 1.1l2 0.4l4 -0.4l10 -4.3l2 -2.1l0.6 -7.3l1.4 -1.9l6 -1.6l2 -1.1l1.3 -1.4l0.7 -3l-0.1 -1l-1.9 -2.1l-6 -1.5l-3.7 -2.4l-4.3 -4.8l-7.9 -7.2l-6.1 -8.9l-9.6 -9.1l-1.1 -2l-0.5 -4l1.3 -4l3.9 -6.6l3.1 -3.4l4.2 -2l14.7 -3.4l8 -0.4l6 1.5l10 7.1l8 2l4 2.2l11.8 13l1.3 4l0.5 8l1.3 2l6.1 6l2.6 4l-0.1 2l-2.6 4l-10.4 10l-5.3 6l-2.7 4l-2.6 6l-1.6 8l0.2 6l1.8 6l3.7 5.7l6 5.4l8 4l10 2.3l6 0.1l2 -0.6l0.9 -0.9l0.5 -2l0.8 -12l1.7 -8l2.1 -4.9l2.4 -3.1l5.6 -3.8l6 -1.1l6 1.3l7.7 3.6l6.7 4l4.1 4l1 2l0.1 4l-2.4 6l-5.2 6.6l-4 3l-4 1.7l-8 1.6l-14 0.1l-4 0.7l-1.2 2.3l-1.1 10l0.1 4l1.8 4l2.4 1.5l2 0.2l10 -0.6l14 4.3l10 1.3l16 -0.4l24 -3l4 0.5l2 1.1l2.9 3.1l2.2 4l1.3 4l1 8l-0.8 4l-2.2 4l-6.4 6.6l-10 7.7l-12 7.3l-8 3.2l-8 1.5l-24 3.2l-14 0.8l-12 -1.8l-4 0.4l-4 1.3l-4 3.2l-2 3.3l-1.8 5.3l-1.6 8l-2 4l-2.6 2.2l-2 0.6l-4 -0.1l-10 -3l-3.7 -1.7l-2.6 -2l-3 -4l-3.1 -6l-3.6 -12.1l-2 -3.1l-2 -1.1l-2 0l-2 0.7l-6 3.4l-4 0.7l-26 -0.5l-14 -2.2l-14 1.4l-10 -1.7l-3.8 -1.5l-0.2 -2l8.1 -14l1.9 -6l-0.2 -2l-4.4 -6l-1.5 -4l-0.1 -6l2.1 -14l0.3 -10l-0.9 -2l-1.3 -0.7l-12 -2l-8 -2.8l-4 -0.3l-4 1.5l-2 1.3l-3.4 3l-3.3 4l-4.4 8l-2 8l-0.1 8l0.8 4l1.6 4l2.8 3.5l6 5l6 6.4l5 7.1l4.1 8l-0.5 4l-9 16l-3.6 4.7l-2 1.7l-4 2.3l-6 1l-6 -0.9l-8 -3.7l-10 -6.4l-6 -2.3l-4 -0.2l-10 1.4l-4 -0.1l-12 -2.6l-24 -3l-20 -3.8l-20 -7.1l-8 -5l-3.3 -4l-1.2 -4l-2 -22l0.5 -4l3.3 -6l2.5 -8l6.3 -8l3.1 -6l0.9 -4l0.3 -10l2.8 -14l5.4 -12l1.4 -4.5l2.3 -3.5l3.7 -1.5l4 0.6l2 1.2l8.1 9.7l5.9 4.2l4 1.8l4 0.9l10 -0.5l8 0.8l6 -2.1l8 -5l8 -2.8l2 0.4l6 4.5l4 1.9l4 0.5l4 -0.7l6.7 -3.9l3.9 -4l5.4 -7.6l2 -1l14 2.6l6 -0.3l4 -2.4l4 -6l7 -15.3l2.8 -8l0.1 -6l-2.2 -4l-3.7 -2.8l-4 -1.8l-14 -3.3l-4.8 -2.1l-3.2 -3.5l-3.4 -6.5l-2.6 -2.3l-4 -1.1l-12 1.2l-2 -0.6l-2 -1.6l-1.4 -3.6l-2.2 -14l2.1 -12l-0.2 -4l-1.7 -8l0.3 -4l2.1 -6l3 -5.3l4 -4.2l2 -1.3zM451 218.8l-6 2.2l-2.4 2l-2.1 4l0 6l2.7 14l-0.1 10l0.5 2l9.4 5.3l10 8.3l2 0.5l2 -0.4l2 -1.5l1.4 -2.2l1.3 -6l-3.3 -32l-2.8 -6l-4.4 -4l-4.2 -1.8zM527 277.5l-16.5 3.5l-3.5 1.4l-2 2l-0.4 2.6l2.5 6l4 6l5.6 6l4.3 2.5l4 1.1l6 0.5l18 -1.1l4 -1.4l6.9 -3.6l3 -2l1.8 -2l0.9 -2l0.2 -2l-1.1 -4l-3.1 -4l-6 -4l-6.6 -3l-6 -1.9l-8 -1.1zM581 296.9l-3.8 2.1l-1.6 2l-0.7 2l0.2 4l1.7 4l2.2 3l2 1.6l2 0.8l2 0.1l2 -0.7l2.5 -2.8l1.5 -4l0 -4l-1.4 -4l-1.8 -2l-2.8 -1.6zM602.2 157l2.8 0.2l4 1.6l4 3.1l2.6 3.1l0.9 4l-1.7 4l-1.7 2l-4.1 2.7l-4 1.2l-2 0l-12.8 -3.9l-3.9 -2l0.2 -2l1.7 -4l4.4 -6l4.4 -2.9zM377.8 169l3.2 -0.9l6 1.3l4 2.5l2.2 3.1l1.5 8l0.1 12l-1.2 8l-0.6 2l-2 2.2l-2 0.1l-4 -1.3l-4 -2.4l-2 -2l-2 -3.5l-4 -10.3l-1.1 -6.8l0.7 -6l2.4 -3.8zM224.1 175l2.9 -0.1l2 0.8l2 1.3l0.6 2l-0.6 2l-3.5 6l-2.4 14l-1.6 4l-3.1 4l-3.2 6l-2.2 1.8l-4 1.3l-6 1.1l-4 0l-4 -0.9l-2 -1.3l-1 -2l-2 -10l0.1 -2l2.8 -6l0 -6l0.5 -2l1.6 -2l2 -1l10.5 -5zM43 467l0 -121.8l24 17.8l26 15.7l26 13.6l22 9.7l14 4.9l14 3.8l16 3.3l48 8.2l14 3.7l10 3.9l8 4.5l8 7l19.6 25.7zM480.9 363l2.1 -0.2l2 0.4l4 2.8l2.3 3l2.4 6l1.2 8l-0.2 6l-1.7 4.5l-2 2.3l-2 0.9l-4 -0.8l-4 -2.9l-3.2 -4l-2.4 -6l-0.6 -6l0.7 -6l1.5 -4.3l2 -2.6zM566.2 381l0.8 -0.9l2 -0.5l5.8 1.4l2.6 2l-0.3 2l-4.1 1.1l-4 -0.7l-2.7 -2.4z"/>
<path fill="#ff0000" d="M43 81l2 0l153.5 0l-3.5 6l-6 6.7l-6 4l-6 2.2l-32 5.3l-28 -0.1l-10 0.7l-12 2.3l-10 3.4l-10 4.9l-10 6.6l-9.5 8l-12.5 12.3zM383.7 93l3.3 -0.5l2 0.3l4 2.2l2 2l6 8.9l12 21.2l3.2 3.9l2.8 2.4l4 1.8l4 0.6l4 -0.6l10 -3.4l4 0.5l2 1.6l1.9 3.1l2.5 8l3.7 8l1 4l-0.9 6l-6.1 14l-0.4 2l0.8 4l2.3 4l9.2 11.5l4 1.3l6 0.1l2 1.2l2 3.6l2 6.3l1.9 4l2.1 2.9l4 2.6l6 0.2l2 -0.6l6 -3.6l4 -0.5l1.7 1l2.1 8l2.2 2.9l2 0.8l2 0l2 -0.8l2 -2.9l-0.3 -4l-2.8 -6l-4.9 -5.4l-0.7 -2.6l0.2 -2l0.5 -0.6l6 -2l2 -1.4l3.3 -4l1.6 -4l0.1 -2l-1 -3.6l-3.9 -4.4l1.9 -2.2l0.9 -3.8l-1 -4l-1.9 -3.2l-2 -2l-2 -0.9l-2 -0.1l-2 0.7l-1.8 1.5l-4.2 5.2l-2 0.2l-4 -1.7l-2 -2.1l-4.8 -7.6l-6.7 -6l-1.4 -2l-0.7 -4l1.6 -4.1l4 -4.2l6 -3.1l8 -2.6l8 -0.7l4 0.6l4 1.5l2 1.5l4 4.4l2 1.2l8 1.1l4 2.2l4 5.3l5 4.9l1 2l0.2 2l-0.9 6l0.4 2l6.3 8l1.2 4l-0.3 2l-2.2 4l-11.9 12l-4 6l-2.4 6l-2.3 8l-0.7 4l0.2 4l1.3 4l4.4 8l3 4l3.7 3.7l8 5.3l12.3 5l3.7 3.3l1.2 2.7l0.6 6l-0.7 4l-1.1 1.8l-2 1.1l-2 0.2l-4 -0.6l-14 -6.2l-8 -2l-10 -1.2l-12 0.4l-6 -0.4l-8 -1.5l-6 -2.3l-4 -2.4l-4 -3.6l-6 -8l-3.4 -7.3l-3.2 -14l-2.1 -4l-5.3 -6l-6 -4.3l-6 -2.5l-4 -0.5l-12 -0.2l-4 -2.3l-2.1 -4.2l0 -6l2.1 -7.3l4.8 -10.7l0.3 -2l-0.9 -4l-2.5 -4l-5.7 -4.9l-20 -9.1l-12 -9.1l-6 -2.1l-12.5 -0.8l-1.5 -0.6l-2 -1.9l-1.7 -3.5l-1.7 -8l2.1 -14l-1.7 -10l0.1 -2l0.9 -3.1l2 -3.6l4 -4zM600.3 101l2.7 -1l4 0.7l2.8 2.3l2.4 4l1.1 4l0 6l-1.8 4l-2.5 1.9l-2 0.5l-4 -0.5l-2.9 -1.9l-2.6 -4l-1 -4l0.1 -6l1.7 -4zM599.3 165l3.7 -1.5l4 1.2l2 2.3l0.4 2l-0.6 2l-1.8 1.7l-2 0.7l-4 -0.7l-2.2 -1.7l-1 -2l0.1 -2zM221.9 177l3.1 -0.8l2 0.2l1.2 0.6l1.2 2l-0.4 2l-3.4 6l-2.1 14l-1.6 4l-2.9 4l-2 4.1l-2 2.1l-4 1.6l-4 0.8l-4 0.3l-4.5 -0.9l-2.4 -2l-1 -2l-1.3 -8l0.2 -2l2.1 -6l0.3 -6l0.6 -1.4l2 -1.9l9.1 -4.7zM378.9 179l2.1 -0.4l2 0.9l2 3.3l-0.2 4.2l-1.8 2l-2 0l-2 -1.6l-1.4 -2.4l-0.6 -2l0.4 -2zM509 181l2.3 0l5.6 2l-2.4 2l-3.5 0.5l-1.6 -0.5l-1.3 -2zM286.8 217l2.2 -0.9l4 0.8l7.4 8.1l4.6 3.9l6 3.6l6 1.5l8 -0.5l8 1.7l4 -0.3l4 -1.9l8 -5.9l6 -1.4l4 1.2l8 5.9l6 1.9l6 -0.5l18 -5.9l6 -0.5l20 2.8l4 1.5l3.2 2.9l2.8 4.3l1.5 5.7l-0.5 4l-1 2l-2 1.7l-2 0.8l-4 -0.1l-8 -3.6l-4 -0.9l-4 0.2l-4 1.3l-7.3 4.6l-8.3 8l-6 8l-2.4 6l-0.7 6l0.5 8l1.5 8l2.5 6l4.2 4.3l10 5.1l6 4.3l4 4.7l2.7 5.6l0.6 4l-1.1 6l-3.6 8l-3.4 4l-3.2 2.2l-4 1.2l-4 0l-4 -1.1l-7.6 -4.3l-10.4 -8.4l-4 -2.1l-4 -1l-4 0.1l-10 2.2l-6 0.3l-16 -1.7l-12 -0.4l-22 -4.2l-2.8 -0.8l-9.2 -4.9l-10 -4.2l-6 -4l-2 -2.9l-2 -6.7l-2.5 -15.3l0.3 -4l3.2 -6l2.1 -8l7 -8l3.3 -6l0.9 -4l0.5 -12l2.1 -12l7.1 -16zM347 266.6l-2 1.6l-1.2 2.8l0.1 2l1.1 2l2 1.4l2 0.4l4 -1.5l2.1 -2.3l0.5 -2l-0.5 -2l-1.9 -2l-2.2 -0.8zM591 223l4 -1l4 0.2l6 2.3l3.4 2.5l1.6 2l1.2 4l-0.9 4l-1.3 2l-4 3.3l-6 1.8l-6 0l-3.6 -1.1l-2.4 -1.6l-1.8 -2.4l-0.8 -2l0 -6l2.6 -5zM584.7 281l4.3 -1.4l4 0.2l14 5.9l6 1.3l6 0.6l8 -0.6l20 -3.8l8 0l4 1.7l3.4 4.1l2 6l-0.2 4l-1.9 4l-5.3 5.1l-8 5.1l-8 3.9l-8 2.8l-8 1.9l-10 1.1l-6 -0.5l-4.2 -1.4l-2.6 -2l-1.4 -2l-1.4 -4l-1.7 -10l-2.7 -6l-4 -3.7l-7.5 -4.3l-1.9 -2l-0.4 -2l0.9 -2zM464.3 293l8.7 -1.4l6 0.1l6 1.7l6 3.8l7.7 7.8l5.1 8l0.9 4l-0.1 2l-1.8 4l-2.5 2l-3.3 0.9l-22 2.7l-14 -1.7l-12 0.2l-2 -0.9l-1.3 -1.2l-0.6 -2l0.3 -2l1.6 -4l5.3 -10l3.2 -8l1.5 -2.3l2 -1.7zM558.2 309l4.8 -0.8l2 0.4l2 1.4l2.5 5l0.3 4l-0.6 2l-3.2 4l-8.2 6l-2.9 4l-1.9 6l-0.6 10l-1.4 4.2l-2 1.7l-2 0.5l-4 -0.5l-4.4 -1.9l-5.4 -4l-6.2 -8.4l-1.8 -3.6l-0.9 -4l-0.4 -8l0.5 -4l2.6 -4l6 -3.3l8 -2.4l10 -1.5zM43 467l0 -102.9l2 1l18 12.9l20 12.2l20 10.7l18 8.4l20 7.9l20 6.2l18 4.4l42 8.6l20 5.8l10 4.3l10 6l12 9.7l4.4 4.8zM482.4 369l2.6 0l2.7 2l1.4 2l1.9 6l0.5 6l-0.5 3.1l-1.7 2.9l-2.3 1.1l-2 -0.4l-3.2 -2.7l-2.8 -6.1l-0.5 -3.9l0.5 -5.6l2 -3.6z"/>
<path fill="#f40000" d="M43 81l2 0l139.4 0l-3.5 4l-6.4 4l-7.5 2.9l-10 2.5l-16 2.4l-34 1.1l-12 2l-10 2.8l-10 4l-10 5.4l-8 5.3l-14 10.9zM382.2 101l2.8 -0.7l4 1.2l3.9 3.5l8.1 9.5l6 8.8l8 14.9l5 6.8l-1 1.5l-2 0.5l-6 -0.5l-16 -4.1l-10.1 -1.4l-3.9 -1.5l-2 -1.9l-2 -4.2l-0.4 -2.4l2.2 -14l-0.8 -10l1 -3.1zM500.6 145l4.4 -1.1l4 -0.2l5.7 1.3l2 2l1.8 4l0.5 2l-1 2l-3 0.6l-4 -0.1l-10 -2l-6 0l-2.4 -0.5l-0.9 -2l1.9 -2zM440.8 155l2.2 -1l2 0.3l3 2.7l0.8 2l-0.3 2l-1.5 2.8l-2 0.9l-2 -0.8l-2.6 -2.9l-0.9 -2l0 -2zM536.7 177l2.3 -0.3l4 2.2l2.2 2.1l0.7 2l-0.2 2l-1.2 2l-3.5 2.7l-4 1.7l-2.3 -0.4l-0.7 -4l1 -6.7zM220.3 179l4.7 -0.8l1.3 0.8l0 2l-2.2 4l-0.5 2l-2.6 16l-4.6 8l-1.4 2.2l-2 1.3l-4 1.3l-6 0.5l-4 -1.2l-2 -2.2l-1.4 -5.9l0.2 -4l1.2 -4l1 -8l3 -2.8l10 -5.2zM443.9 197l1.1 -1.3l2 0.3l1.6 1l0.4 2l-2 0.6l-2 -0.3zM522.6 203l2.4 -1.5l2 -0.1l0.6 1.6l-0.6 3.5l-1.9 4.5l-2.1 2.1l-2 -0.5l-2 -3.6l0.4 -2zM287.1 221l1.9 -1.3l2 -0.1l2 1l10 9.5l8 5l6 1.6l8 0.1l8 3.3l4 -0.1l4 -1.9l7.1 -7.1l2.9 -1.8l4 0.2l2.7 1.6l11.3 10.7l4 2.3l3.1 1l3 2l-0.4 2l-1.7 2l-2.7 2l-4.9 2l-6.4 0.7l-14 -0.2l-6 1.3l-3.9 2.2l-2.1 1.8l-4.4 6.2l-1.5 4l-0.1 4l1.1 4l3.6 8l0.8 4l-1 4l-5.9 8l-1.3 4l0.5 2l2.8 4l11.4 8l1.6 2l0.6 2l-0.3 2l-1.2 2l-2.5 2l-4.2 1.2l-10 0.1l-10 1.1l-4 -0.4l-8 -2.9l-10 -2.7l-4 -5l-2 -1.3l-18 -5.4l-4 -2.6l-2 -2.9l-2 -5.1l-2.3 -10.1l0.1 -4l2.3 -4l1.6 -8l0.9 -2l7.9 -8l3.5 -6l1.1 -4l0.2 -12l1 -10l1.7 -5.2zM514.5 247l4.5 -1.5l2 0.3l2 1.2l0.9 2l-0.3 2l-2.6 1.7l-4 0.1l-3.2 -1.8l-0.7 -2zM645.1 291l3.9 -0.1l4 1.3l2 1.7l1.1 3.1l-0.5 2l-1.5 2l-3.1 2.4l-4 2l-5 1.6l-5 0.8l-18 0.8l-4 -0.5l-2 -0.9l-1.5 -2.2l0.1 -2l2.5 -2l10.9 -1.4l4 -1.5l9.5 -5.1zM464.4 305l2.6 -0.8l4 -0.3l4 0.7l4 1.9l2.7 2.5l1.3 2l0.5 2l-0.3 2l-1.2 2l-3 2.3l-6 1.9l-6 -0.2l-5.8 -2l-1.8 -2l-0.3 -4l1.9 -5.1zM381 321l6 -0.7l6 0.8l6 2.6l4 3.5l2.3 3.8l1 6l-1.5 6l-1.8 3l-2 1.9l-4 1.8l-6 -0.4l-4.5 -2.3l-5.8 -6l-4.4 -8l-1 -6l0.6 -2l1.5 -2zM538.1 325l4.9 -1.6l2 0.2l1.4 1.4l-0.8 4l-2.6 5.3l-2 2l-4 0.9l-2 -0.3l-2 -1.5l-0.7 -2.4l1.5 -4l1.6 -2zM43 383l2 0.7l20.1 13.3l17.4 10l18.5 9.3l20 8.7l18 6.6l18 5.6l54 12.9l16 4.4l18 6.9l7 3.6l2.3 2l-211.3 0z"/>
<path fill="#c80000" d="M43 81l2 0l115.5 0l-5.5 2.6l-10 2.4l-10 1.2l-30 2.1l-10 1.6l-10 2.4l-10 3.4l-10 4.5l-8 4.5l-14 9zM386.6 117l2.4 -1l4 0.7l4 1.7l4 3.1l3.8 5.5l1.3 4l-0.1 4l-1.1 2l-3.9 1.5l-6 -0.3l-8 -2.1l-2.1 -1.1l-1.9 -1.9l-0.9 -2.1l0.1 -4l2.8 -8zM202.2 189l16.8 -7.6l2 -0.1l0.9 1.7l-3.3 20l-4.4 8l-2.3 2l-2.9 1.1l-4 0.6l-4 -0.8l-2.6 -2.9l-0.9 -4l1.5 -14.4l0.8 -1.6zM288.6 225l2.4 -0.7l2 0.8l16 12.5l4 2l10.2 3.4l3.4 4l0.7 4l-0.6 2l-2.6 4l-5.4 4l-5.7 1.6l-16 1.2l-4 1.2l-2 1.6l-1.1 2.4l0.1 2l4.2 10l1.2 4l1.7 8l-0.3 4l-1.7 4l-1.5 2l-6.6 5.6l-4 2l-6 0.3l-4 -1.2l-4 -2.9l-2 -3.2l-3.7 -10.6l2.1 -6l0.4 -6l1.2 -3.3l7.9 -6.7l5.5 -6l1.2 -2l0.7 -4l-1.2 -14l0.6 -8l1.3 -4l2 -3.7zM388.8 333l2.2 -1.4l2 -0.2l4 1.7l2 3.3l0.3 2.6l-0.6 2l-1.6 2l-2.1 0.8l-2 0l-2.1 -0.8l-1.9 -1.9l-1.5 -4.1l0.2 -2zM43 467l0 -65.9l22 13.3l16 8.6l18 8.6l20 8.3l30 10l52 13.4l6.2 1.7l4.8 2z"/>
<path fill="#a40000" d="M43 81l2 0l45.5 0l-25.5 9.1l-22 11.5zM394.7 127l2.3 -0.3l2 1.7l0 2.8l-2 0.9l-2.9 -1.1l-0.7 -2zM211.8 187l3.2 -0.4l1.1 0.4l0.9 2l0.2 8l-0.6 4l-3.6 7l-2 2.7l-4 1.7l-4 -0.4l-2 -1.5l-1.3 -3.5l-0.2 -4l0.9 -10l1.4 -2l3.2 -2zM288.7 231l2.3 -1l2 0.4l4 2.5l4.8 4.1l7.8 8l1 2l0.2 2l-0.9 2l-2.3 2l-2.6 1.2l-6 1.6l-6 0.2l-4 -1.6l-2 -2.5l-1.1 -2.9l-1 -4l-0.3 -4l1.2 -6l1.2 -2.2zM278.8 273l2.2 -0.4l1.1 0.4l2.9 2.5l4.4 7.5l1.1 4l0.1 4l-0.6 4l-1.2 2l-5.8 5.9l-2 1.5l-2 0.6l-2 -0.2l-2 -1.1l-6.5 -8.7l-0.8 -2l-0.3 -8l0.3 -4l1.3 -2.5l2 -1.6zM43 467l0 -47.8l30 16.6l26 12l20 7.7l29 9.5l4.5 2z"/>
<path fill="#7c0000" d="M43 81l12 0l1.9 0l-2.7 2l-11.2 5.5zM204.5 191l2.5 -0.9l4 0.2l2 1.6l1.4 3.1l-0.1 4l-1.3 3.3l-2.9 4.7l-1.1 1.2l-2 1l-2 -0.1l-2 -1.6l-1.5 -4.5l0 -8l0.8 -2zM270.8 281l2.2 -1.4l2 -0.3l4 0.5l2 1.4l4 4.8l1.1 3l-0.6 4l-1.3 2l-3.2 2.5l-2 0.9l-2 -0.3l-4 -3.1l-1.4 -2l-1.4 -4l-0.6 -4zM43 467l0 -30l28 14.6l30.5 13.4l3.3 2z"/>
<path fill="#540000" d="M205 193l2 -0.7l2 0.3l2.2 2.4l0.3 2l-0.5 2.3l-2 3.7l-2 1.5l-2 -0.4l-1.3 -3.1l0 -6zM273.6 285l1.4 -0.8l2 0.4l2 1.8l0.9 2.6l-0.9 2.1l-2 0.6l-2 -0.7l-2 -3.9zM43 455l4 1.5l16.4 8.5l2.7 2l-23.1 0z"/>
</g>
<path class="k" d="M100.3,205 104.8,178.3 109.2,169.4 120.3,156.1 135.9,155 158.1,151.7 180.3,151.7 193.3,148.3 210,150 211.7,148.3 216.7,138.3 226.7,133.3 243.3,126.7 250,118.3 260,120 270,130 280,138.3 284,158.3 288.4,173.9 292.9,182.8 297.3,191.7 301.8,205 297.3,211.7 304,218.3 310.7,222.8 326.2,221.7 341.8,216.1 350.7,211.7 361,204M107,205 111.4,189.4 113.7,173.9 118.1,162.8 140.3,161.7 144.8,168.3 162.6,163.9 180.3,160.6 205,156.1 211.7,153.3 215,146.7 223.3,140 235,134.2 245,132.5 248.3,143.3 256.7,150 268.3,153.3 279.6,158.3 284,173.9 286.2,189.4 290.7,205 296,210 306.2,209.4 315.1,215 328.4,215 341.8,210.6 348.4,206.1M204,229.4 210.7,227.2 217.3,222.8 226.2,218.3 235.1,213.9 241.8,215 248.4,220.6 255.1,227.2 258.4,238.3 261.8,249.4 262.9,262.8 259.6,271.7 255.1,278.3 251.8,285 247,298.3 244.5,311.7 246,325M204,247.2 210.7,240.6 217.3,229.4 226.2,226.1 237.3,228.3 244,233.9 248.4,242.8 252.9,253.9 257.3,262.8 257.3,271.7M91.4,205 88.1,227.2 89.2,249.4 94.8,267.2 102.6,282.8 111.4,298.3 122.6,309.4 135.9,315 149.2,309.4 162.6,302.8 171.4,293.9 170.3,280.6 168.1,271.7 164.8,258.3 171.4,252.8 189.2,248.3 205,242.8M100.3,205 93.7,227.2 92.6,245 98.1,265 107,282.8 115.9,298.3 127,308.3 142.6,300.6 151.4,292.8 164.8,290.6 168.1,278.3 164.8,271.7 163.7,258.3 171.4,256.1 189.2,250.6 205,246.1M235.1,358.3 248.4,356.1 259.6,352.8 277.3,351.7 290,353.5 303,349.6 316,347 329,349.6 334,358.7 342,364 343,371.7 334,374.3 331.5,384.7 329,400 321,413 316,423.6 308,434 303,441.7 305.5,452 310.8,465M236,362 250,359.5 265,357.5 280,356.5 290,358.7 300.4,353.5 316,343 331.5,340.6 349.7,341.9 362.6,345.8 365.2,356 373,361.3 367.8,364 354.9,364 349.7,369 348.4,379.5 344.5,392.4 339.3,402.8 334,415.8 341.9,423.6 334,424.9 323.7,428.8 313.3,439 307.5,449 313,462M296.5,336 298.5,335.5 299,337.5 297,338 296.5,336M306.5,342.5 309.5,342 310,344.5 307,345 306.5,342.5M353,387.5 357,386.5 357.5,389.5 353.5,390.5 353,387.5M356,401 360,400 360.5,403.5 356.5,404 356,401M378.5,360 382.5,359.5 383,362.5 379,363 378.5,360M373,330 378,340.6 375.6,348.3 383.4,345.8 393.8,348.3 400,342.8 404.4,336.1 415.6,331.7 424.4,333.9 433.3,338.3M427.2,460.6 432.8,446.7 446.7,441.1 463.3,435.6 474.4,424.4 484.4,416.1 497.8,413.9 515.7,413.3 529.6,424.4 546.2,432.8 557.3,449.4 571.2,441.1 590.7,435.6 604.6,438.3 615.7,421.7 618.4,430 640.7,432.8 654.6,416.1 657.3,405M435.6,442.8 448.9,436.1 462.2,431.7 475.6,422.8M611,319 615,337 627.5,342.5 640,355 647.5,370 652.5,387.5 653.8,405 647.5,417.5 640,430 632.5,432.5M620,315 635,320 647.5,330 657.5,350 661,367.5 662.5,387.5 660,405 655,420 647.5,430M615,364 617,363.5 617.5,368 615.5,369 615,364M621,398 624.5,397.5 625,402 621.5,405 619,411 616.5,413.5 616,408.5 620,404.5 621,398M357,106 357,140 357.5,165 359.5,185 362,200M352,223.5 359,220.5 363,222 368,231 362,229.5 353.5,227.5 352,223.5M400,106 406.7,120.5 407.8,138 400,145 389,148 385.5,156 393,163 404.5,174 408,183 400,189.5 389,180.5 386.7,187 394.5,194 393,200.5 398,214 404,226 397,231 388,226 380,236.7M371.7,190 373.3,216.7 380,236.7 390,245 400,250 415,258 430,262 441,263M411,207 417,213 424,223 432,233 438,240 431,245 423,240 416,230 410,222 406,213M444,243 452,238 459,243 457,252 449,257 444,250 444,243M456,271 461,264 470,263 473,269 468,277 460,280 456,271M476,260 484,255 493,258 498,266 506,266 509,272 503,279 494,274 485,272 478,266 476,260M516,277 521,274 526,279 522,284 517,283M546,318 552,322 558,329 570,330 583,329 590,324 598,322 608,319 610,313 600,311 590,313 575,313 560,313 552,312 546,318M443,318 450,326 460,328 470,324 482,326 490,333 494,337 499,331 506,326 520,323 535,325 545,320M458,298 464,304 470,311 478,313M384,318 386,324 392,328 402,331 412,331 421,328 424,322 417,317 405,313.5 392,314.5 384,318M424,322 430,318 436,321 431,327 428,333M296,311 299,306 302,312 296,311M282,258 290,262 300,260 307,266 318,271 332,269 344,263 352,258 362,262M362,262 368,270 376,279 384,288 392,296M253,268 256,278 252,290 249,302 247,314M518,413.9 525,420 536,424 548,428 560,432 570,434"/>
<path class="l" d="M341.8,85 337,98 338.5,109.5 341.8,122.8 348.5,138 351.8,151.7 357,169.5 359.5,183 357.5,195 354,201 349,203 345,201.5 341.8,198 337,191.7 330.7,182.8 324,174 321.8,162.8 316,151.7 317,140.5 310.7,129.5 301.8,121.7 293,118 286,124 279.5,122.8 276.7,116.7 268.3,113.3 260,110.8 248.3,110 243.3,112.5 237.5,111.7 235,107.5 233.3,111.7 226.7,112.5 216.7,113.3 210,116.7 206.7,123.3 201.7,128.3 195,132.5 188.3,133.3 180,128.3 169,125 158,124 147,122.8 136,126 124.8,131.7 113.7,137 102.5,136 100,144 87,152 89,158 82.5,165 88,174 83.7,196 82.5,205 81.5,227 80.3,245 84.8,258 91.5,274 100.3,289.5 107,302.8 113.7,311.7 124.8,314 131.5,318 136,322.8 147,318 158,315 171.5,311.7 180,316 189,309.5 193.7,300.5 196,289.5 198,276 204.5,270.5 215,266 226,264 237,263 248.5,264 252.5,268 250.5,277 244.5,288 238.5,299 237,310 232,321.7 230.5,332.8 229.4,344 224,355 220.5,360.5 226,365 237,364 248.5,362.8 259.5,364 270.7,361.7 281.8,360.5 293,365 297.3,371.7 306,374 308.5,382.8 306,396 307.3,409.5 301.8,420.5 301,431.7 299.5,438 305,452 307.8,464 47,464 47,85Z"/>
<rect class="l" x="341" y="85" width="334" height="20.5"/>
<path class="l" d="M424.5,464 430,452 438.3,444 452,441 463.3,435.5 471.7,428 482.3,424.5 490.7,421.7 499,425.8 493.5,432.8 488,435.5 485,441 490.7,449.5 492.5,456.4 492,464 495,464 495,456 496,452 501.8,444 510,440.5 514.5,437.5 512.5,431 515,427 520,428 520.5,435 518,438.5 529.5,438.3 540.7,444 546,452 557.3,455 571,453.6 579.5,456.4 590.7,460.5 599,457.8 613,453.6 626.8,455 640.7,453.6 645,449 652,449 653,457.8 660,459.5 668.5,462 674,464 674,470 424.5,470Z"/>
<path class="c" d="M341.8,85 337,98 338.5,109.5 341.8,122.8 348.5,138 351.8,151.7 357,169.5 359.5,183 357.5,195 354,201 349,203 345,201.5 341.8,198 337,191.7 330.7,182.8 324,174 321.8,162.8 316,151.7 317,140.5 310.7,129.5 301.8,121.7 293,118 286,124 279.5,122.8 276.7,116.7 268.3,113.3 260,110.8 248.3,110 243.3,112.5 237.5,111.7 235,107.5 233.3,111.7 226.7,112.5 216.7,113.3 210,116.7 206.7,123.3 201.7,128.3 195,132.5 188.3,133.3 180,128.3 169,125 158,124 147,122.8 136,126 124.8,131.7 113.7,137 102.5,136 100,144 87,152 89,158 82.5,165 88,174 83.7,196 82.5,205 81.5,227 80.3,245 84.8,258 91.5,274 100.3,289.5 107,302.8 113.7,311.7 124.8,314 131.5,318 136,322.8 147,318 158,315 171.5,311.7 180,316 189,309.5 193.7,300.5 196,289.5 198,276 204.5,270.5 215,266 226,264 237,263 248.5,264 252.5,268 250.5,277 244.5,288 238.5,299 237,310 232,321.7 230.5,332.8 229.4,344 224,355 220.5,360.5 226,365 237,364 248.5,362.8 259.5,364 270.7,361.7 281.8,360.5 293,365 297.3,371.7 306,374 308.5,382.8 306,396 307.3,409.5 301.8,420.5 301,431.7 299.5,438 305,452 307.8,464"/>
<path class="c" style="stroke-width:3;stroke-dasharray:1.5 3 2.5 4 1 2.5 3 5;stroke-linecap:butt" d="M341.8,85 337,98 338.5,109.5 341.8,122.8 348.5,138 351.8,151.7 357,169.5 359.5,183 357.5,195 354,201 349,203 345,201.5 341.8,198 337,191.7 330.7,182.8 324,174 321.8,162.8 316,151.7 317,140.5 310.7,129.5 301.8,121.7 293,118 286,124 279.5,122.8 276.7,116.7 268.3,113.3 260,110.8 248.3,110 243.3,112.5 237.5,111.7 235,107.5 233.3,111.7 226.7,112.5 216.7,113.3 210,116.7 206.7,123.3 201.7,128.3 195,132.5 188.3,133.3 180,128.3 169,125 158,124 147,122.8 136,126 124.8,131.7 113.7,137 102.5,136 100,144 87,152 89,158 82.5,165 88,174 83.7,196 82.5,205 81.5,227 80.3,245 84.8,258 91.5,274 100.3,289.5 107,302.8 113.7,311.7 124.8,314 131.5,318 136,322.8 147,318 158,315 171.5,311.7 180,316 189,309.5 193.7,300.5 196,289.5 198,276 204.5,270.5 215,266 226,264 237,263 248.5,264 252.5,268 250.5,277 244.5,288 238.5,299 237,310 232,321.7 230.5,332.8 229.4,344 224,355 220.5,360.5 226,365 237,364 248.5,362.8 259.5,364 270.7,361.7 281.8,360.5 293,365 297.3,371.7 306,374 308.5,382.8 306,396 307.3,409.5 301.8,420.5 301,431.7 299.5,438 305,452 307.8,464"/>
<path class="c" style="stroke-width:4.4;stroke-dasharray:1 6 2 9 1.5 4;stroke-dashoffset:3;stroke-linecap:butt" d="M341.8,85 337,98 338.5,109.5 341.8,122.8 348.5,138 351.8,151.7 357,169.5 359.5,183 357.5,195 354,201 349,203 345,201.5 341.8,198 337,191.7 330.7,182.8 324,174 321.8,162.8 316,151.7 317,140.5 310.7,129.5 301.8,121.7 293,118 286,124 279.5,122.8 276.7,116.7 268.3,113.3 260,110.8 248.3,110 243.3,112.5 237.5,111.7 235,107.5 233.3,111.7 226.7,112.5 216.7,113.3 210,116.7 206.7,123.3 201.7,128.3 195,132.5 188.3,133.3 180,128.3 169,125 158,124 147,122.8 136,126 124.8,131.7 113.7,137 102.5,136 100,144 87,152 89,158 82.5,165 88,174 83.7,196 82.5,205 81.5,227 80.3,245 84.8,258 91.5,274 100.3,289.5 107,302.8 113.7,311.7 124.8,314 131.5,318 136,322.8 147,318 158,315 171.5,311.7 180,316 189,309.5 193.7,300.5 196,289.5 198,276 204.5,270.5 215,266 226,264 237,263 248.5,264 252.5,268 250.5,277 244.5,288 238.5,299 237,310 232,321.7 230.5,332.8 229.4,344 224,355 220.5,360.5 226,365 237,364 248.5,362.8 259.5,364 270.7,361.7 281.8,360.5 293,365 297.3,371.7 306,374 308.5,382.8 306,396 307.3,409.5 301.8,420.5 301,431.7 299.5,438 305,452 307.8,464"/>
<path class="c" d="M424.5,464 430,452 438.3,444 452,441 463.3,435.5 471.7,428 482.3,424.5 490.7,421.7 499,425.8 493.5,432.8 488,435.5 485,441 490.7,449.5 492.5,456.4 492,464 495,464 495,456 496,452 501.8,444 510,440.5 514.5,437.5 512.5,431 515,427 520,428 520.5,435 518,438.5 529.5,438.3 540.7,444 546,452 557.3,455 571,453.6 579.5,456.4 590.7,460.5 599,457.8 613,453.6 626.8,455 640.7,453.6 645,449 652,449 653,457.8 660,459.5 668.5,462 674,464"/>
<path class="c" style="stroke-width:3;stroke-dasharray:1.5 3 2.5 4 1 2.5 3 5;stroke-linecap:butt" d="M424.5,464 430,452 438.3,444 452,441 463.3,435.5 471.7,428 482.3,424.5 490.7,421.7 499,425.8 493.5,432.8 488,435.5 485,441 490.7,449.5 492.5,456.4 492,464 495,464 495,456 496,452 501.8,444 510,440.5 514.5,437.5 512.5,431 515,427 520,428 520.5,435 518,438.5 529.5,438.3 540.7,444 546,452 557.3,455 571,453.6 579.5,456.4 590.7,460.5 599,457.8 613,453.6 626.8,455 640.7,453.6 645,449 652,449 653,457.8 660,459.5 668.5,462 674,464"/>
<path class="c" style="stroke-width:4.4;stroke-dasharray:1 6 2 9 1.5 4;stroke-dashoffset:3;stroke-linecap:butt" d="M424.5,464 430,452 438.3,444 452,441 463.3,435.5 471.7,428 482.3,424.5 490.7,421.7 499,425.8 493.5,432.8 488,435.5 485,441 490.7,449.5 492.5,456.4 492,464 495,464 495,456 496,452 501.8,444 510,440.5 514.5,437.5 512.5,431 515,427 520,428 520.5,435 518,438.5 529.5,438.3 540.7,444 546,452 557.3,455 571,453.6 579.5,456.4 590.7,460.5 599,457.8 613,453.6 626.8,455 640.7,453.6 645,449 652,449 653,457.8 660,459.5 668.5,462 674,464"/>
<path class="l" style="stroke:#fff;stroke-width:1.7;stroke-linejoin:round" d="M282.5,257.5 288.3,250 295,245 303.3,240.8 313.3,238.3 323.3,236.3 333.3,236.3 341.7,236.7 350,238.3 358.3,241.7 365,245.8 371.7,250.8 378.3,251.7 385,253.3 391.7,256.7 398.3,260 405,265 411.7,268.3 420,270.8 428.3,275 436.7,278.3 445,282.5 451.7,285.8 454.2,288.3 454.2,289.2 446.7,290.8 436.7,291.7 428.3,291.7 420,292.5 408.3,292.5 400,293.3 396.7,292.5 400,288.3 405.8,283.3 406.7,280 400,278.3 391.7,277.5 386.7,274.2 385,268.3 381.7,264.2 375,262.5 366.7,261.7 360,258.3 353.3,256.5 348.3,257.5 343.3,255.8 335,254.2 331.7,250 333.3,247.5 328.3,245 321.7,244.2 315,245.8 308.3,250 298.3,252.5 290,255.8ZM312.5,258 316,256.5 319.5,258.5 320,263 317,265.5 313.5,264.5ZM387.8,320 391,317.8 400,316.7 409,319 415.5,321 420,324.5 417.8,327.8 409,329 400,327.8 393.3,324.5 387.8,322ZM462,296.7 465.5,292 475.5,290 486.7,292 493.3,294.5 504.5,292 515.5,296.7 520.7,302 527.3,307.8 536,310 543,312 543.5,317.8 536,322 527.3,320 520,319.5 511,320 502,324.5 495.5,330 493.3,333.5 489,326.7 484.5,323.3 475.5,321 466.7,321 457.8,324.5 451,321 447.8,316.7 453.3,314.5 462,314.5 471,315.5 480,315.5 477.8,311 471,309 466.7,304.5 464.5,300ZM561.8,317.8 573,317 585,316.7 586.5,321 580.7,326.7 561.8,326.7 559.5,322ZM387.8,205 391.5,204.5 394.5,209 396,215 394.8,218.5 391.5,216.5 388.8,212ZM459.5,271.5 463.5,269.5 467.5,266 470.5,265.5 470.5,269 467.5,273.5 463,276 459.5,275ZM646,351.5 650.5,350 654,352.5 652.5,357.5 648.5,360 645.5,356Z"/>
<path class="c" style="stroke-width:3.2;stroke-dasharray:1.5 3 2.5 4 1 2.5 3 5;stroke-linecap:butt" d="M282.5,257.5 288.3,250 295,245 303.3,240.8 313.3,238.3 323.3,236.3 333.3,236.3 341.7,236.7 350,238.3 358.3,241.7 365,245.8 371.7,250.8 378.3,251.7 385,253.3 391.7,256.7 398.3,260 405,265 411.7,268.3 420,270.8 428.3,275 436.7,278.3 445,282.5 451.7,285.8 454.2,288.3 454.2,289.2 446.7,290.8 436.7,291.7 428.3,291.7 420,292.5 408.3,292.5 400,293.3 396.7,292.5 400,288.3 405.8,283.3 406.7,280 400,278.3 391.7,277.5 386.7,274.2 385,268.3 381.7,264.2 375,262.5 366.7,261.7 360,258.3 353.3,256.5 348.3,257.5 343.3,255.8 335,254.2 331.7,250 333.3,247.5 328.3,245 321.7,244.2 315,245.8 308.3,250 298.3,252.5 290,255.8ZM312.5,258 316,256.5 319.5,258.5 320,263 317,265.5 313.5,264.5ZM387.8,320 391,317.8 400,316.7 409,319 415.5,321 420,324.5 417.8,327.8 409,329 400,327.8 393.3,324.5 387.8,322ZM462,296.7 465.5,292 475.5,290 486.7,292 493.3,294.5 504.5,292 515.5,296.7 520.7,302 527.3,307.8 536,310 543,312 543.5,317.8 536,322 527.3,320 520,319.5 511,320 502,324.5 495.5,330 493.3,333.5 489,326.7 484.5,323.3 475.5,321 466.7,321 457.8,324.5 451,321 447.8,316.7 453.3,314.5 462,314.5 471,315.5 480,315.5 477.8,311 471,309 466.7,304.5 464.5,300ZM561.8,317.8 573,317 585,316.7 586.5,321 580.7,326.7 561.8,326.7 559.5,322ZM387.8,205 391.5,204.5 394.5,209 396,215 394.8,218.5 391.5,216.5 388.8,212ZM459.5,271.5 463.5,269.5 467.5,266 470.5,265.5 470.5,269 467.5,273.5 463,276 459.5,275ZM646,351.5 650.5,350 654,352.5 652.5,357.5 648.5,360 645.5,356Z"/>
<path class="c" style="stroke-width:2.5" d="M376.7,175 378.3,168.3 385,165.8 393.3,168.3 401.7,171.7 407.5,176.7 407.5,183.3 403.3,189 398.3,185 395,178.3 388.3,175 381.7,176.7 376.7,175M388.5,200 391,199 393.5,203 396.5,210 399,218 400.5,226 398.5,229.5 395,224 390.5,218.5 387,211 386.5,204.5 388.5,200M390,201.5 392,205M395.5,219 398,226M408.3,196.7 415,198.3 420.8,203.3 421,209.6 426,212.5 431.7,215.8 434.8,220M403,197.5 405.5,198.5M408.8,198 413,203 417,207.5 421.5,214 425.4,220 430,225 433.8,228.3 436.9,231.5M426.5,247 427,240 429,236.5 433.8,235.6 439,238.8 438.5,244M427,250 429,254 433.8,255.4M446,219.5 446.8,222.5M447.3,243 452,243 456.7,244 453,248.5 450.4,252.3 447.3,255.4 448,249 447.3,243M459,246.5 464,247.5M466,250 472.5,251M478.5,262 482,258.5 488,257.5 493.5,261 496.5,266.5 493,272 487,270.5 482,267 478.5,262M496.5,269 501,267 506,270 508.5,274.5 504,277.5 499,274.5 496.5,269M470,287 474,288M441,262 441.5,264.5M290,256.5 298,255 308,256 310,262 314,266.5 320,266.5 333,264.5 345,262.5 347.5,258.5M322,248 326,252 323,256 327,259M336,257 340,259.5M328,261.5 332,260.5M350,257 360,263 366.7,270 375,277 383.3,282 390,287 395,291.5M366,264.5 372,268 377,271.5 381,276.5 387,280 394,282 399,285.5M373,265.5 379,268.5M391,279 395,286M365,243 372,247 380,249 388,252 396,256 403,261M377,247 384,250.5M591,321 596,318.5 601,316 606,314M592,323 597,321M596,330 600,329.3 602.5,330.5M622.5,320.5 626,321 629,324 628,326.5M624,322.5 627,325M627.5,335.5 630,337.5 632.5,340.5M643.5,331 645,333.5M643.5,339.5 645.5,341.5 644,342.5M637,343.5 639,346M651,366.5 652,370 653.5,373.5M652.5,367.5 653.5,371M655,379.5 657,383 659,386.5M656.5,380 658.5,384M657.5,392.5 659,396 659.5,398.5M658.5,393 660,397M655,405.5 656,409 656,411M652,415 650,419 648,423 646.5,427M650.5,421 648,426M529.5,423.5 532.5,425.2M541.5,424.5 545.5,427.2M553,426.5 556.5,428.3M565.5,431 568.5,431.8M577,431 579.5,431.8M600.5,431 603,431.6M604.5,446 608,444.5 612.5,446.5 609,449.5 604.5,446M607,446.5 610.5,447.5M326.7,212.8 331,210.5 337.8,208.9 345.5,207.2 352,204.5M329,211.5 336,209.3 343,208M352.5,223.5 359,220.7 363,222.2 367.5,230.5M337.5,302.5 342,302M358,296 361,295.5M210,117 213,123 211,129 216,135 219,129 221,122 217,116M212,119 215,127 216.5,132M196,130.5 201,128M186,132 191,133.5M240,303 238,312 235.5,321 234.5,331 233.5,342 230,352M243.5,296 241.5,303M237,326 236.5,336M258,353.5 263,353M297,335.5 300,336M307,343 311,342.5M308,380 311,384 309,390M318,386 320,391M311,372 316,371M352,343 355,342.5"/>
<path class="c" style="stroke-width:1" d="M47,345 60.3,348.3 73.7,356.7 87,361.7 103.7,366.7 117,360 127,355.7 137,356.7 147,363.3 157,375 170.3,386.7 183.7,393.3 197,396.7 213.7,403.3 227,406.7 236,406 239,403.5 241,407 238.5,410 243.7,413.3 253.7,425 263.7,438.3 270.3,451.7 273.7,460 280.3,462"/>
<path fill="#ffd200" d="M491.5,449 L494.5,449 L495.5,456 L497.5,464 L489.5,464 L491.5,456Z"/><path fill="#ff9000" d="M491,459 L496.5,459 L497.5,464 L489.5,464Z"/><ellipse cx="200.5" cy="115" rx="2.8" ry="1.7" fill="#f01000"/><path fill="#f01000" d="M175.5,123.5h2v1.5h-2zM171,122.5h2v1.6h-2zM213,119h1.6v2h-1.6z"/><path fill="#fff" d="M312,248h2.5v1.5h-2.5zM318,250.5h3v1.4h-3zM325,254.5h2v2h-2zM330,257h3v1.5h-3zM337,252h2v1.5h-2zM341,259h2.5v1.5h-2.5zM322,260h2v1.6h-2zM306,253.5h2.5v1.5h-2.5zM300,255.5h2v1.5h-2zM368,266h2v1.5h-2zM372,270h2.5v1.5h-2.5zM377,273.5h2v2h-2zM382,278h2.5v1.5h-2.5zM388,283h2v1.5h-2zM393,286.5h2v2h-2zM386,277h1.5v1.5h-1.5zM397,281h2.5v1.5h-2.5zM309,381h2v2h-2zM313,386h2.5v1.5h-2.5zM311,392h2v1.5h-2zM317,379h1.5v2h-1.5zM314,375h2v1.5h-2zM320,384h1.5v1.5h-1.5zM309,398h2v1.5h-2zM316,395h1.5v1.5h-1.5z"/>
</g>
<path class="g" d="M125.8,85V464M204.1,85V464M282.4,85V464M360.7,85V464M439.1,85V464M517.4,85V464M595.7,85V464M47,118H674M47,204.5H674M47,291H674M47,377.5H674"/>
<rect x="47.5" y="85" width="626.5" height="379.3" fill="none" stroke="#fff" stroke-width="2"/>
<path fill="#fff" d="M101.1,99.8h1.6v1.4h-1.6zM159.5,94.5 160.6,96.6 164.4,103.1 169.6,106.5 167.2,100.8 161.4,96ZM190.1,95.8 191.5,97.6 196.1,103 201.7,105.2 198.4,100.2 192.1,96.8ZM220.9,98.1 222.6,99.3 228.1,102.8 233.5,102.9 229.4,99.4 223,98.3ZM251.8,99.3 253.7,100.2 259.8,102.6 265.3,101.7 260.4,99 253.9,99.2ZM285,101.4 286.6,101.6 291.3,101.8 294.6,99.6 290.7,98.7 286.4,100.6ZM317.6,102.8 319,102.5 322.8,101.2 324.7,98.2 321.2,98.7 318.4,101.7ZM351.3,100.6 351.7,101.1 352.8,101.3 353.7,100.4 352.7,99.6 351.6,100.1ZM380.4,100.9 381.4,101.3 384.8,101.7 387.2,100.1 384.5,99.1 381.3,100.3ZM410.5,100.5 411.9,101 416.2,102 419.7,100.5 416.2,99 411.9,100ZM441.2,101.3 442.9,101.6 447.9,101.9 451.6,99.7 447.4,98.7 442.7,100.6ZM473.1,101.9 474.6,101.9 479.3,101.7 482.5,99.1 478.4,98.7 474.3,101ZM504.4,102.1 506,102.1 510.7,101.6 513.7,98.9 509.7,98.6 505.7,101.1ZM536.9,103.4 538.2,102.9 542.2,101 543.9,97.6 540.3,98.6 537.6,102.1ZM568.8,103.4 570,102.9 573.4,100.8 574.6,97.6 571.4,98.8 569.3,102.2ZM600.7,103.7 601.8,103 604.7,100.6 605.4,97.3 602.5,98.9 601,102.4ZM632,104.3 633.2,103.4 636.2,100.4 636.7,96.7 633.6,98.8 632.3,102.9ZM663.6,104.9 664.7,103.8 667.6,100.1 667.8,96.1 664.8,98.8 663.8,103.4ZM49.9,115.1 51.2,116.4 55.3,120 59.9,120.5 56.9,116.9 51.7,115.5ZM116,114.6 116,115.8 116.7,119.1 119.1,121 119.1,118 116.9,115.4ZM146,113.1 146.4,114.8 148.1,119.8 151.7,122.5 151,118 147.3,114.3ZM174.9,114.8 176.3,116.2 180.6,120.1 185.4,120.8 182.3,116.9 176.8,115.3ZM206.1,114.6 207.5,116 211.9,120.1 216.9,121 213.7,117 208,115.2ZM238,116.1 239.3,117.1 243.5,119.7 247.7,119.5 244.5,116.7 239.6,116.1ZM268.9,117.8 270.5,118.3 275.4,119.4 279.4,117.8 275.4,116.1 270.5,117.3ZM301.8,120 303.2,119.8 307.1,118.5 309.1,115.6 305.6,116 302.7,118.9ZM333.3,119.4 334.6,119.4 338.2,118.7 340.2,116.2 337,116.2 334.1,118.4ZM365.1,118.2 366.1,118.6 369,118.9 371.1,117.4 368.6,116.5 365.9,117.6ZM395.2,118.3 396.5,118.6 400.6,119.1 403.6,117.3 400.3,116.3 396.4,117.6ZM426,118.4 427.5,118.7 432.1,119.2 435.5,117.2 431.7,116.1 427.4,117.7ZM456.8,118.9 458.5,119.1 463.7,119.2 467.3,116.7 463,115.9 458.3,118.1ZM487.7,119.2 489.5,119.3 495.2,119.2 499.1,116.4 494.3,115.7 489.3,118.3ZM519.5,120.5 521.3,120.2 526.8,118.7 529.9,115.1 525.1,115.6 520.8,119.3ZM551.4,120.9 553.1,120.4 558.1,118.5 560.6,114.7 556.2,115.6 552.5,119.6ZM582.8,121.3 584.4,120.6 589.5,118.4 591.9,114.3 587.4,115.6 583.8,119.8ZM614.6,121.6 616.2,120.8 620.8,118.1 622.7,114 618.4,115.6 615.5,120.1ZM647.1,122 648.4,121 652,117.7 652.8,113.6 649.3,115.9 647.6,120.5ZM67,134.1 68,134.9 71.1,136.6 74.2,136.1 71.8,134.1 68.2,133.9ZM99.9,131.5 100,132.8 101.2,136.7 104,138.7 103.7,135.3 100.9,132.3ZM132,131.5 131.9,132.8 132.3,136.4 134.4,138.7 134.8,135.5 132.9,132.5ZM162.1,131.5 162.5,132.9 163.9,136.8 167,138.7 166.4,135.1 163.3,132.3ZM191.1,132 192.3,133.3 196.1,137.3 200.6,138.2 198,134.4 192.8,132.5ZM223,132.7 224,133.9 227.5,137 231.4,137.5 229,134.3 224.5,133ZM253.8,134.1 255.1,134.9 259.3,136.9 263.2,136.1 260,133.8 255.3,133.9ZM285.2,136.2 286.7,136.3 291.3,136.4 294.5,134 290.6,133.3 286.5,135.4ZM317.3,136.8 318.7,136.8 322.7,136 325,133.4 321.5,133.4 318.3,135.9ZM349,135.9 350.2,136.2 353.6,136.2 356,134.3 353,133.6 349.9,135.2ZM379.2,135.8 380.7,136.1 385.1,136.4 388.4,134.4 384.7,133.4 380.5,135.1ZM410.4,135.8 411.9,136.1 416.5,136.5 419.8,134.4 416,133.4 411.8,135.1ZM440.7,136.3 442.5,136.5 448.2,136.5 452.2,133.9 447.4,133.1 442.3,135.5ZM472,136.6 473.8,136.7 479.6,136.5 483.5,133.6 478.7,133 473.6,135.7ZM503.3,136.7 505.1,136.7 510.9,136.5 514.9,133.5 510,133 504.9,135.7ZM535.2,138 537,137.6 542.5,136 545.6,132.2 540.8,132.8 536.5,136.7ZM566.8,138.6 568.6,138 573.9,135.7 576.6,131.6 571.8,132.8 568,137.2ZM598.4,138.9 600.1,138.2 605.3,135.6 607.7,131.3 603,132.8 599.4,137.4ZM629.7,139.2 631.5,138.3 636.7,135.5 639,131 634.3,132.8 630.8,137.6ZM662.2,139.2 663.6,138.3 667.8,135.2 669.2,131 665.2,133 662.8,137.7ZM48.2,148.8 50,150.3 55.7,154.8 61.6,156 57.4,151.7 50.5,149.4ZM82.7,147.9 83.4,149.6 85.7,154.5 89.7,156.9 88.4,152.4 84.1,149ZM116.3,148.3 116.2,149.7 116.4,153.8 118.8,156.5 119.2,153 117.2,149.4ZM146.6,148.3 146.9,149.8 148.1,154.1 151.1,156.5 150.7,152.6 147.7,149.3ZM176.6,148.9 177.3,150.3 179.9,154.4 183.7,155.9 182.2,152.1 178,149.6ZM206.3,149.6 207.6,150.9 211.9,154.6 216.7,155.2 213.6,151.5 208.1,150ZM238.2,150.6 239.4,151.6 243.4,154.3 247.4,154.2 244.5,151.3 239.8,150.7ZM269.5,151.6 270.8,152.4 275,154.1 278.8,153.2 275.5,151.1 270.9,151.4ZM300.8,153.2 302.3,153.5 306.8,153.7 310.1,151.6 306.3,150.7 302.1,152.5ZM332.7,153.8 334.1,153.9 338.2,153.4 340.8,151 337.3,150.7 333.8,152.9ZM364.9,153.2 365.9,153.4 369.2,153.4 371.3,151.6 368.6,151 365.7,152.5ZM393.8,153.2 395.5,153.5 401,153.9 405.1,151.6 400.5,150.5 395.4,152.5ZM424.5,153.6 426.5,153.7 432.6,153.9 437,151.2 431.9,150.3 426.3,152.7ZM455.8,154.2 457.8,154.1 464.1,153.7 468.3,150.6 463.1,150.2 457.5,153.2ZM487.1,154.2 489.1,154.1 495.4,153.7 499.7,150.6 494.4,150.2 488.8,153.2ZM518.9,154.7 520.8,154.5 526.8,153.5 530.5,150.1 525.4,150.2 520.5,153.5ZM550.8,155.5 552.6,155 558.2,153.2 561.3,149.3 556.4,150.1 552.1,154.1ZM582.3,155.7 584.1,155.1 589.5,153.1 592.4,149.1 587.6,150.1 583.5,154.3ZM614,155.9 615.7,155.3 620.9,153 623.3,148.9 618.7,150.1 615.1,154.5ZM645.3,156.7 647.1,155.8 652.3,152.7 654.6,148.1 649.9,150 646.4,155ZM64.4,160 65.8,163.2 70.6,173 76.8,179.4 73.6,171 66.7,162.7ZM99.6,164 99.8,165.9 100.8,171.8 104.3,175.4 104.2,170.4 100.7,165.5ZM131,164.5 131.2,166.3 132.2,171.6 135.5,174.9 135.4,170.3 132.1,165.9ZM161.1,166.1 161.8,167.6 164.2,171.7 168,173.3 166.5,169.5 162.5,166.9ZM191.2,166.2 192.3,167.7 195.9,171.9 200.5,173.2 198.1,169.1 192.9,166.9ZM223,168 224.1,168.9 227.6,171.5 231.4,171.4 228.8,168.7 224.5,168ZM254.3,169 255.5,169.7 259.3,171.3 262.7,170.4 259.8,168.4 255.7,168.7ZM285.2,170.6 286.7,170.8 291.3,171 294.5,168.8 290.7,168 286.5,169.8ZM318.8,170.3 319.7,170.6 322,170.6 323.5,169.1 321.5,168.5 319.4,169.6ZM347.9,170.9 349.4,171 354,170.9 357.1,168.5 353.2,167.9 349.2,170ZM380.1,170.2 381.3,170.5 384.9,170.9 387.5,169.2 384.5,168.3 381.2,169.5ZM409.4,170.7 411.2,170.9 416.8,171.2 420.9,168.7 416.2,167.7 411,169.9ZM440.6,171.1 442.5,171.2 448.2,171.1 452.2,168.3 447.4,167.6 442.3,170.2ZM471.6,171.3 473.5,171.3 479.7,171.1 484,168.1 478.8,167.6 473.3,170.3ZM503.7,171.4 505.5,171.4 510.9,170.9 514.5,168 509.8,167.6 505.2,170.4ZM534.6,172.4 536.6,172 542.5,170.7 546.2,167 541,167.4 536.2,171.1ZM566.5,172.6 568.3,172.2 573.9,170.6 577,166.8 572.1,167.4 567.8,171.3ZM597.8,173.2 599.7,172.6 605.3,170.4 608.3,166.2 603.3,167.4 599.1,171.7ZM629.7,173.7 631.4,172.9 636.7,170.1 639,165.7 634.3,167.4 630.8,172.1ZM661.5,173.7 663.1,172.9 667.9,170 669.8,165.7 665.5,167.5 662.4,172.2ZM49.1,177.2 50.4,180.4 54.7,190.3 60.7,196.8 57.8,188.4 51.3,179.9ZM82.4,176.2 83.1,179.6 85.4,190.2 90,197.8 88.8,189 84,179.3ZM115.2,181.2 115.5,183.1 116.4,189.1 119.8,192.8 119.8,187.7 116.4,182.7ZM146.5,182.9 146.8,184.4 148.1,188.8 151.2,191.1 150.8,187.2 147.7,183.9ZM176.6,184.1 177.4,185.3 180.1,188.9 183.7,189.9 182,186.5 178,184.6ZM207.4,184.6 208.4,185.8 211.7,188.9 215.6,189.4 213.3,186.2 208.9,184.9ZM239.3,186.2 240.2,187 243.4,188.5 246.4,187.8 243.9,185.9 240.4,186ZM269.5,188 271,188.2 275.6,188.3 278.8,186 274.9,185.2 270.8,187.2ZM300.3,188.5 302,188.5 307.2,188.3 310.6,185.5 306.2,185 301.7,187.6ZM333.3,188.5 334.5,188.5 338.2,187.9 340.3,185.5 337.1,185.4 334.1,187.6ZM365.1,187.7 366.1,188 369.1,188 371.1,186.3 368.5,185.6 365.9,187ZM395.2,187.6 396.6,187.9 400.6,188.3 403.6,186.4 400.2,185.4 396.4,187ZM425,187.9 426.8,188.1 432.4,188.5 436.5,186.1 431.8,185 426.6,187.2ZM456.3,188.1 458.1,188.2 463.8,188.5 467.8,185.9 463.1,185 457.9,187.3ZM487.6,188.4 489.5,188.5 495.2,188.4 499.1,185.6 494.3,184.9 489.2,187.5ZM518.9,189.3 520.9,189.1 526.7,188.1 530.5,184.7 525.4,184.8 520.5,188.1ZM550.8,189.6 552.6,189.3 558.1,188 561.3,184.4 556.5,184.8 552.1,188.4ZM582.7,189.8 584.3,189.4 589.3,187.8 592,184.2 587.6,184.9 583.8,188.5ZM614.5,189.6 616,189.2 620.5,187.7 622.8,184.4 618.8,185 615.5,188.4ZM645.3,189.3 646.9,189.1 651.8,187.9 654.6,184.7 650.4,185 646.5,188.2ZM68.1,198.3 68.4,200.3 69.5,206.4 73.1,210.3 72.9,205.1 69.3,199.9ZM99.9,197.5 100,199.7 100.7,206.4 103.9,211.1 104.1,205.4 101,199.4ZM131.3,199.8 131.4,201.4 132.3,206 135.2,208.8 135.2,204.8 132.3,201ZM161.7,201.1 162.2,202.4 164.1,206 167.4,207.5 166.3,204.1 162.9,201.7ZM192.5,201.9 193.2,203 195.9,206 199.3,206.7 197.5,203.7 193.8,202.2ZM224.4,203.1 225.1,203.9 227.4,205.7 230,205.5 228.3,203.5 225.5,203ZM255.3,204.4 256.3,204.9 259.3,205.5 261.7,204.2 259.2,203 256.2,203.9ZM286.3,205 287.5,205.3 291,205.4 293.4,203.6 290.4,202.8 287.3,204.3ZM318.3,205.6 319.4,205.7 322.4,205.1 324,203 321.3,202.9 319,204.8ZM349.9,206 351,205.9 353.8,204.9 355,202.6 352.4,202.9 350.4,205.1ZM380.5,204.9 381.5,205.2 384.8,205.4 387.1,203.7 384.4,202.9 381.4,204.2ZM411.4,205 412.6,205.3 416.3,205.5 418.8,203.6 415.8,202.8 412.4,204.3ZM442.3,205.1 443.6,205.4 447.7,205.5 450.6,203.5 447.2,202.7 443.4,204.4ZM473.7,205.2 475,205.4 479,205.5 481.9,203.4 478.4,202.7 474.8,204.4ZM504.9,205.5 506.3,205.6 510.5,205.4 513.2,203.1 509.7,202.6 506,204.7ZM536.3,205.5 537.7,205.6 541.8,205.4 544.5,203.1 541,202.6 537.4,204.7ZM568,205.8 569.3,205.8 573.1,205.2 575.5,202.8 572.1,202.6 568.9,204.9ZM599.3,205.6 600.5,205.7 604.4,205.3 606.8,203 603.5,202.7 600.2,204.7ZM630.8,205.6 632,205.7 635.7,205.3 637.9,203 634.8,202.7 631.7,204.8ZM661.8,205.4 663.1,205.6 667,205.4 669.5,203.2 666.2,202.7 662.8,204.6ZM54.3,217.9 54,219.1 53.7,222.7 55.5,225.3 56.4,222.3 55,218.9ZM85.1,216.5 84.9,218.2 84.9,223.2 87.4,226.7 88.1,222.5 85.9,217.9ZM116.4,217.3 116.3,218.7 116.4,223 118.7,225.9 119.3,222.3 117.2,218.4ZM146.7,218.4 147,219.6 148.2,223.1 151,224.8 150.5,221.6 147.8,219.1ZM177,219 177.7,220.2 180,223.3 183.3,224.2 181.8,221.1 178.3,219.4ZM209.1,220.2 209.5,221.1 211.5,222.9 213.9,223 212.7,220.9 210,220.2ZM240.7,221.1 241.2,221.7 243.1,222.7 244.9,222.1 243.6,220.7 241.5,220.7ZM271.5,222.1 272.4,222.4 275,222.6 276.8,221.1 274.6,220.4 272.2,221.5ZM303.3,222.3 304.1,222.6 306.3,222.4 307.6,220.9 305.6,220.4 303.8,221.6ZM335.7,223.2 336.4,223 337.8,221.8 337.9,220 336.2,220.7 335.6,222.4ZM366.1,222.1 366.8,222.4 368.8,222.5 370.1,221.1 368.3,220.5 366.6,221.5ZM397.1,221.9 397.8,222.3 400.1,222.6 401.8,221.3 399.9,220.5 397.7,221.3ZM428.6,221.9 429.3,222.3 431.4,222.5 432.9,221.3 431.1,220.5 429.1,221.3ZM459.5,222 460.3,222.4 462.9,222.6 464.6,221.2 462.5,220.4 460.2,221.4ZM491.2,222 491.9,222.4 494.1,222.5 495.6,221.2 493.7,220.5 491.7,221.4ZM522.1,222.2 523,222.5 525.6,222.6 527.3,221 525.1,220.4 522.8,221.5ZM553.8,222 554.5,222.4 556.7,222.5 558.3,221.2 556.4,220.5 554.4,221.4ZM585,222.2 585.8,222.5 588.2,222.5 589.7,221 587.6,220.4 585.5,221.6ZM616.4,222 617.1,222.4 619.4,222.6 620.9,221.2 619,220.5 617,221.4ZM647.6,222 648.4,222.4 650.8,222.6 652.4,221.2 650.4,220.4 648.2,221.4ZM70.1,235.8 69.7,236.8 69.5,239.8 71.1,242 71.9,239.4 70.7,236.6ZM100.9,234.7 100.7,236.1 100.7,240.3 103,243.1 103.6,239.6 101.7,235.8ZM131.7,236.2 131.7,237.3 132.6,240.2 134.8,241.6 134.7,238.9 132.6,236.8ZM161.9,236.3 162.4,237.4 164.2,240.5 167.2,241.5 166.1,238.6 163.1,236.7ZM193.9,237.6 194.2,238.4 195.7,240.1 197.8,240.2 197,238.3 194.8,237.6ZM225.6,238.3 225.9,239 227.3,239.9 228.8,239.5 227.9,238.1 226.2,238ZM256.9,238.9 257.4,239.4 258.9,239.8 260.1,238.9 258.9,238 257.4,238.4ZM288.2,239.2 288.8,239.6 290.4,239.7 291.4,238.6 290,237.9 288.6,238.6ZM320.1,239.6 320.7,239.8 321.9,239.5 322.3,238.2 321,238 320.1,239ZM351.7,239.6 352.2,239.8 353.2,239.4 353.3,238.2 352.2,238.1 351.6,239ZM382.6,238.9 382.9,239.4 384.1,239.8 385,238.9 384.1,238.1 382.9,238.4ZM413.9,238.9 414.3,239.4 415.4,239.7 416.3,238.9 415.4,238.1 414.3,238.4ZM445.2,239 445.6,239.5 446.8,239.7 447.7,238.8 446.7,238 445.5,238.5ZM476.6,239 477,239.5 478.1,239.7 478.9,238.8 478,238 476.9,238.5ZM507.8,239 508.3,239.5 509.5,239.7 510.3,238.8 509.3,238 508.1,238.5ZM539.2,239 539.6,239.4 540.7,239.7 541.6,238.8 540.6,238.1 539.6,238.5ZM570.5,239 570.9,239.5 572.1,239.7 572.9,238.8 571.9,238 570.8,238.5ZM601.9,239 602.3,239.4 603.3,239.7 604.2,238.8 603.3,238.1 602.2,238.4ZM633.1,239 633.5,239.4 634.7,239.7 635.6,238.8 634.6,238 633.4,238.4ZM664.6,238.9 664.9,239.4 665.9,239.7 666.8,238.9 665.9,238.1 664.9,238.4ZM54.7,254.9 54.2,255.4 54.1,256.7 55.1,257.5 55.8,256.4 55.2,255.2ZM85.7,254 85.4,254.8 85.3,257 86.8,258.4 87.4,256.5 86.3,254.6ZM116.5,253 116.3,254.1 116.6,257.4 118.6,259.4 119,256.6 117.3,253.8ZM146.8,254.1 147,255.1 148.5,257.5 151,258.3 150.2,255.9 147.8,254.4ZM178.6,254.6 178.7,255.5 179.8,257.3 181.8,257.8 181.3,255.8 179.4,254.7ZM210.3,256.1 210.6,256.7 211.7,257.1 212.7,256.3 211.8,255.4 210.7,255.7ZM241.8,256.2 242.1,256.7 243.1,257 243.9,256.2 243.1,255.4 242.1,255.7ZM273.1,256.3 273.5,256.8 274.4,257 275.2,256.1 274.3,255.4 273.4,255.8ZM304.7,255.5h1.6v1.4h-1.6zM336,255.5h1.6v1.4h-1.6zM100.9,271.4 100.8,272.2 101.2,274.5 102.9,275.6 103.1,273.5 101.7,271.8ZM132.2,271.4 132,272.2 132.5,274.5 134.3,275.6 134.5,273.5 132.9,271.8ZM162,271.9 162.5,272.8 164.5,274.9 167.1,275.1 165.8,272.9 163,272ZM194.7,273.2 194.9,273.8 196,274.4 197.1,273.8 196.4,272.7 195.1,272.8ZM225.6,274 226.3,274.3 227.9,274.3 228.8,273 227.3,272.5 226,273.4ZM257.7,272.8h1.6v1.4h-1.6zM289,272.8h1.6v1.4h-1.6zM320.4,272.8h1.6v1.4h-1.6zM85.4,290.1h1.6v1.4h-1.6zM117,288.7 116.7,289.5 116.7,291.6 118.1,292.9 118.7,291 117.6,289.2ZM147.3,289.2 147.4,290 148.5,291.9 150.4,292.4 150,290.4 148.1,289.3ZM178.6,290 178.8,290.7 180.1,291.8 181.8,291.6 181,290.1 179.3,289.8ZM210,290.8 210.4,291.3 211.9,291.7 213,290.8 211.9,289.9 210.4,290.3ZM242,290.1h1.6v1.4h-1.6zM101.1,307.4h1.6v1.4h-1.6zM132.7,307.1 132.4,307.6 132.6,308.7 133.8,309.1 134.1,307.9 133.3,307.2ZM163.5,307.6 163.6,308.2 164.4,309 165.6,308.6 165.2,307.5 164.1,307.3ZM193.5,307.2 194,307.9 196,309.4 198.2,309 196.9,307.3 194.4,307ZM178.7,324.4 178.8,325.1 180,326.4 181.7,326.4 181.1,324.8 179.4,324.3ZM398.6,324.7h1.6v1.4h-1.6zM461.3,324.7h1.6v1.4h-1.6zM523.9,324.7h1.6v1.4h-1.6zM386.3,342.2 385.4,341.8 383,341.7 381.3,343.2 383.4,343.9 385.6,342.8ZM415.2,341.7 414.7,341.9 414.3,342.9 415,343.7 415.9,343 415.7,342ZM447.7,342.6 447.3,342.2 446.1,341.9 445.2,342.8 446.2,343.6 447.3,343.2ZM478.9,342.6 478.5,342.1 477.4,341.9 476.6,342.8 477.6,343.6 478.6,343.1ZM510.2,342.5 509.7,342.1 508.7,341.9 508,342.9 509,343.6 509.9,343ZM541.5,342.5 541.1,342.1 540,341.9 539.3,342.9 540.3,343.6 541.3,343ZM570.9,342h1.6v1.4h-1.6zM369.6,359.8 369.1,359.3 367.6,359.2 366.6,360.2 367.9,360.9 369.2,360.3ZM396.2,356.7 396.8,358 399.1,361.9 402.6,363.3 401.3,359.7 397.5,357.3ZM432.3,359.7 431.7,359.3 430.2,359.2 429.2,360.3 430.5,361 431.9,360.3ZM463.7,359.9 463.2,359.4 461.6,359.1 460.4,360.1 461.7,360.9 463.2,360.4ZM494.9,359.7 494.4,359.3 492.9,359.2 491.8,360.3 493.2,361 494.5,360.3ZM526.2,359.7 525.7,359.3 524.2,359.2 523.2,360.3 524.5,361 525.8,360.3ZM557.4,359.8 556.9,359.3 555.5,359.2 554.6,360.2 555.8,360.9 557.1,360.3ZM257.7,376.6h1.6v1.4h-1.6zM289,376.6h1.6v1.4h-1.6zM320.4,376.6h1.6v1.4h-1.6zM353.6,377.4 353.3,376.9 352.3,376.5 351.4,377.2 352.1,378.1 353.2,377.9ZM383.8,375.9 383.3,376.3 382.9,377.7 383.8,378.7 384.7,377.6 384.3,376.3ZM415,375.9 414.5,376.4 414.3,377.7 415.3,378.7 416,377.6 415.5,376.3ZM448.2,377.1 447.6,376.7 445.9,376.4 444.7,377.5 446.1,378.3 447.7,377.7ZM479.5,377.1 478.9,376.7 477.2,376.4 476,377.5 477.4,378.3 479.1,377.7ZM510.8,377 510.2,376.6 508.5,376.4 507.4,377.6 508.8,378.3 510.4,377.6ZM542.1,377 541.5,376.6 539.8,376.4 538.7,377.6 540.1,378.3 541.7,377.6ZM572.8,377.1 572.4,376.7 571.3,376.5 570.6,377.5 571.6,378.1 572.6,377.7ZM273.6,395.9 274.2,395.7 275.1,394.6 274.7,393.3 273.5,393.9 273.3,395.3ZM305.4,395.9 305.9,395.6 306.3,394.3 305.5,393.3 304.6,394.2 304.9,395.5ZM337.6,395.2 337.7,394.6 337.1,393.8 335.9,394 336.1,395.1 337.1,395.4ZM369.7,394.4 369.2,393.9 367.6,393.7 366.5,394.8 367.8,395.6 369.3,394.9ZM399.3,393.3 398.9,393.8 398.6,395 399.5,395.9 400.3,394.8 399.9,393.7ZM432.4,394.3 431.8,393.9 430.2,393.7 429.1,394.9 430.5,395.6 432,394.9ZM463.9,394.5 463.3,394 461.5,393.7 460.2,394.7 461.7,395.6 463.4,395ZM495.1,394.3 494.5,393.9 492.8,393.7 491.7,394.9 493.1,395.6 494.6,394.9ZM526.5,394.3 525.9,393.9 524.1,393.7 522.9,394.9 524.4,395.6 526,394.9ZM557.6,394.4 557,393.9 555.5,393.8 554.5,394.8 555.8,395.6 557.2,394.9ZM586.5,393.9h1.6v1.4h-1.6zM257.8,413.1 258.4,413 259.4,412.1 259.3,410.7 258,411.1 257.6,412.5ZM289.2,414 289.9,413.5 291,411.7 290.4,409.8 289,411.1 288.9,413.2ZM321.5,413.1 321.9,412.6 321.9,411.4 320.8,410.7 320.3,411.8 320.9,412.9ZM353.7,412.2 353.4,411.6 352.4,411 351.3,411.6 352,412.7 353.2,412.6ZM383.3,410.9 383,411.4 383.2,412.5 384.3,412.9 384.7,411.8 383.9,411ZM416,411.3 415.5,411.1 414.4,411.4 414.2,412.5 415.4,412.7 416,411.9ZM448.2,411.8 447.6,411.3 445.9,411 444.7,412 446.1,412.9 447.7,412.3ZM479.5,411.7 478.9,411.3 477.2,411 476,412.1 477.4,412.9 479,412.3ZM510.8,411.7 510.2,411.2 508.5,411 507.4,412.1 508.8,412.9 510.3,412.2ZM542.1,411.7 541.5,411.2 539.9,411 538.7,412.1 540.1,412.9 541.7,412.2ZM572.8,411.8 572.4,411.3 571.4,411.1 570.6,412 571.6,412.7 572.5,412.3ZM272.6,431.3 273.5,430.9 275.4,429.4 275.7,427.1 273.6,428 272.7,430.3ZM305.1,430.9 305.7,430.5 306.5,429 305.8,427.5 304.6,428.6 304.7,430.3ZM337.5,430 337.6,429.4 337.2,428.5 336.1,428.4 336,429.5 336.9,430.1ZM369.6,429.1 369.1,428.6 367.7,428.3 366.6,429.3 367.8,430.1 369.2,429.6ZM398.6,428.5h1.6v1.4h-1.6zM432.3,429 431.8,428.6 430.3,428.3 429.2,429.4 430.5,430.1 431.9,429.6ZM463.6,429.1 463.1,428.6 461.6,428.3 460.5,429.3 461.7,430.1 463.2,429.6ZM494.9,429 494.4,428.6 492.9,428.3 491.8,429.4 493.1,430.1 494.5,429.6ZM526.2,429 525.7,428.6 524.2,428.3 523.2,429.4 524.4,430.1 525.8,429.6ZM557.4,429.1 556.9,428.6 555.6,428.4 554.6,429.3 555.8,430.1 557,429.6ZM257.5,448.1 258.2,447.9 259.6,446.7 259.6,444.9 258,445.6 257.4,447.3ZM289,448.3 289.7,448 290.9,446.5 290.7,444.7 289.2,445.6 288.8,447.5ZM321.2,447.7 321.7,447.3 322,446.2 321.1,445.3 320.3,446.2 320.7,447.4ZM351.7,445.8h1.6v1.4h-1.6zM383,445.8h1.6v1.4h-1.6zM414.3,445.8h1.6v1.4h-1.6zM447.5,446.5 447.2,446 446.2,445.7 445.4,446.5 446.2,447.3 447.2,447ZM478.8,446.4 478.5,446 477.5,445.7 476.7,446.6 477.5,447.3 478.5,447ZM510.1,446.4 509.8,445.9 508.8,445.7 508,446.6 508.9,447.3 509.9,446.9ZM541.4,446.4 541.1,445.9 540.1,445.7 539.4,446.6 540.2,447.3 541.2,446.9ZM570.9,445.8h1.6v1.4h-1.6zM54.1,86h1.6v1.6h-1.6zM54.1,461.6h1.6v1.6h-1.6zM85.4,86h1.6v1.6h-1.6zM85.4,461.6h1.6v1.6h-1.6zM116.7,86h1.6v1.6h-1.6zM116.7,461.6h1.6v1.6h-1.6zM148.1,86h1.6v1.6h-1.6zM148.1,461.6h1.6v1.6h-1.6zM179.4,86h1.6v1.6h-1.6zM179.4,461.6h1.6v1.6h-1.6zM210.7,86h1.6v1.6h-1.6zM210.7,461.6h1.6v1.6h-1.6zM242,86h1.6v1.6h-1.6zM242,461.6h1.6v1.6h-1.6zM273.3,86h1.6v1.6h-1.6zM273.3,461.6h1.6v1.6h-1.6zM304.7,86h1.6v1.6h-1.6zM304.7,461.6h1.6v1.6h-1.6zM336,86h1.6v1.6h-1.6zM336,461.6h1.6v1.6h-1.6zM367.3,86h1.6v1.6h-1.6zM367.3,461.6h1.6v1.6h-1.6zM398.6,86h1.6v1.6h-1.6zM398.6,461.6h1.6v1.6h-1.6zM429.9,86h1.6v1.6h-1.6zM429.9,461.6h1.6v1.6h-1.6zM461.3,86h1.6v1.6h-1.6zM461.3,461.6h1.6v1.6h-1.6zM492.6,86h1.6v1.6h-1.6zM492.6,461.6h1.6v1.6h-1.6zM523.9,86h1.6v1.6h-1.6zM523.9,461.6h1.6v1.6h-1.6zM555.2,86h1.6v1.6h-1.6zM555.2,461.6h1.6v1.6h-1.6zM586.5,86h1.6v1.6h-1.6zM586.5,461.6h1.6v1.6h-1.6zM617.9,86h1.6v1.6h-1.6zM617.9,461.6h1.6v1.6h-1.6zM649.2,86h1.6v1.6h-1.6zM649.2,461.6h1.6v1.6h-1.6z"/>
<text class="t" x="41.5" y="29.8" textLength="37.5" lengthAdjust="spacingAndGlyphs">NRL</text>
<text class="t" x="97.5" y="29.8" textLength="71" lengthAdjust="spacingAndGlyphs">IASNFS</text>
<text class="t" transform="translate(195,29.8) scale(1.15,1)" textLength="54.8" lengthAdjust="spacing">60-Hr</text>
<text class="t" transform="translate(273,29.8) scale(1.15,1)" textLength="83.5" lengthAdjust="spacing">Forecast</text>
<text class="t" transform="translate(388.5,29.8) scale(1.22,1)" textLength="50" lengthAdjust="spacing">valid</text>
<text class="t" transform="translate(463.5,29.8) scale(1.2,1)" textLength="17.9" lengthAdjust="spacing">at</text>
<text class="t" transform="translate(502,29.8) scale(1.15,1)" textLength="109.6" lengthAdjust="spacing">2009/10/22</text>
<text class="t" x="645" y="29.8" textLength="34.5" lengthAdjust="spacingAndGlyphs">12Z</text>
<text class="a" y="73.8"><tspan x="26.6" textLength="28.5" lengthAdjust="spacing">100</tspan><tspan class="d" x="54.3" dy="1.6">°</tspan><tspan x="60.4" dy="-1.6" textLength="11.2" lengthAdjust="spacingAndGlyphs">W</tspan></text>
<text class="a" y="73.8"><tspan x="112.8" textLength="19.8" lengthAdjust="spacing">95</tspan><tspan class="d" x="132.2" dy="1.6">°</tspan><tspan x="138.3" dy="-1.6" textLength="11.2" lengthAdjust="spacingAndGlyphs">W</tspan></text>
<text class="a" y="73.8"><tspan x="191.3" textLength="19.8" lengthAdjust="spacing">90</tspan><tspan class="d" x="210.7" dy="1.6">°</tspan><tspan x="216.8" dy="-1.6" textLength="11.2" lengthAdjust="spacingAndGlyphs">W</tspan></text>
<text class="a" y="73.8"><tspan x="269.3" textLength="19.8" lengthAdjust="spacing">85</tspan><tspan class="d" x="288.7" dy="1.6">°</tspan><tspan x="294.8" dy="-1.6" textLength="11.2" lengthAdjust="spacingAndGlyphs">W</tspan></text>
<text class="a" y="73.8"><tspan x="347.8" textLength="19.8" lengthAdjust="spacing">80</tspan><tspan class="d" x="367.2" dy="1.6">°</tspan><tspan x="373.3" dy="-1.6" textLength="11.2" lengthAdjust="spacingAndGlyphs">W</tspan></text>
<text class="a" y="73.8"><tspan x="426.8" textLength="19.8" lengthAdjust="spacing">75</tspan><tspan class="d" x="446.2" dy="1.6">°</tspan><tspan x="452.3" dy="-1.6" textLength="11.2" lengthAdjust="spacingAndGlyphs">W</tspan></text>
<text class="a" y="73.8"><tspan x="505.3" textLength="19.8" lengthAdjust="spacing">70</tspan><tspan class="d" x="524.7" dy="1.6">°</tspan><tspan x="530.8" dy="-1.6" textLength="11.2" lengthAdjust="spacingAndGlyphs">W</tspan></text>
<text class="a" y="73.8"><tspan x="583.8" textLength="19.8" lengthAdjust="spacing">65</tspan><tspan class="d" x="603.2" dy="1.6">°</tspan><tspan x="609.3" dy="-1.6" textLength="11.2" lengthAdjust="spacingAndGlyphs">W</tspan></text>
<text class="a" y="73.8"><tspan x="661.8" textLength="19.8" lengthAdjust="spacing">60</tspan><tspan class="d" x="681.2" dy="1.6">°</tspan><tspan x="687.3" dy="-1.6" textLength="11.2" lengthAdjust="spacingAndGlyphs">W</tspan></text>
<text class="a" y="123.9"><tspan x="3.3" textLength="19.8" lengthAdjust="spacing">30</tspan><tspan class="d" x="22.7" dy="1.6">°</tspan><tspan x="28.8" dy="-1.6" textLength="9.2" lengthAdjust="spacingAndGlyphs">N</tspan></text>
<text class="a" y="123.9"><tspan x="683.3" textLength="19.8" lengthAdjust="spacing">30</tspan><tspan class="d" x="702.7" dy="1.6">°</tspan><tspan x="708.8" dy="-1.6" textLength="9.2" lengthAdjust="spacingAndGlyphs">N</tspan></text>
<text class="a" y="210.4"><tspan x="3.3" textLength="19.8" lengthAdjust="spacing">25</tspan><tspan class="d" x="22.7" dy="1.6">°</tspan><tspan x="28.8" dy="-1.6" textLength="9.2" lengthAdjust="spacingAndGlyphs">N</tspan></text>
<text class="a" y="210.4"><tspan x="683.3" textLength="19.8" lengthAdjust="spacing">25</tspan><tspan class="d" x="702.7" dy="1.6">°</tspan><tspan x="708.8" dy="-1.6" textLength="9.2" lengthAdjust="spacingAndGlyphs">N</tspan></text>
<text class="a" y="296.9"><tspan x="3.3" textLength="19.8" lengthAdjust="spacing">20</tspan><tspan class="d" x="22.7" dy="1.6">°</tspan><tspan x="28.8" dy="-1.6" textLength="9.2" lengthAdjust="spacingAndGlyphs">N</tspan></text>
<text class="a" y="296.9"><tspan x="683.3" textLength="19.8" lengthAdjust="spacing">20</tspan><tspan class="d" x="702.7" dy="1.6">°</tspan><tspan x="708.8" dy="-1.6" textLength="9.2" lengthAdjust="spacingAndGlyphs">N</tspan></text>
<text class="a" y="383.4"><tspan x="3.6" textLength="19.8" lengthAdjust="spacing">15</tspan><tspan class="d" x="23" dy="1.6">°</tspan><tspan x="29.1" dy="-1.6" textLength="9.2" lengthAdjust="spacingAndGlyphs">N</tspan></text>
<text class="a" y="383.4"><tspan x="683.6" textLength="19.8" lengthAdjust="spacing">15</tspan><tspan class="d" x="703" dy="1.6">°</tspan><tspan x="709.1" dy="-1.6" textLength="9.2" lengthAdjust="spacingAndGlyphs">N</tspan></text>
<text class="a" y="469.9"><tspan x="3.6" textLength="19.8" lengthAdjust="spacing">10</tspan><tspan class="d" x="23" dy="1.6">°</tspan><tspan x="29.1" dy="-1.6" textLength="9.2" lengthAdjust="spacingAndGlyphs">N</tspan></text>
<text class="a" y="469.9"><tspan x="683.6" textLength="19.8" lengthAdjust="spacing">10</tspan><tspan class="d" x="703" dy="1.6">°</tspan><tspan x="709.1" dy="-1.6" textLength="9.2" lengthAdjust="spacingAndGlyphs">N</tspan></text>
<text class="b" x="130" y="410.3" textLength="69" lengthAdjust="spacing">Surface</text>
<text class="b" x="126" y="445.3" textLength="77.5" lengthAdjust="spacing">Elevation</text>
<rect x="46.5" y="469.3" width="628" height="14.4" fill="#fff"/>
<rect x="48.1" y="470.8" width="24.1" height="11.4" fill="#00002e"/>
<rect x="74.2" y="470.8" width="24.1" height="11.4" fill="#000068"/>
<rect x="100.3" y="470.8" width="24.1" height="11.4" fill="#0000a8"/>
<rect x="126.5" y="470.8" width="24.1" height="11.4" fill="#0000f0"/>
<rect x="152.6" y="470.8" width="24.1" height="11.4" fill="#0030ff"/>
<rect x="178.7" y="470.8" width="24.1" height="11.4" fill="#0060ff"/>
<rect x="204.8" y="470.8" width="24.1" height="11.4" fill="#0084ff"/>
<rect x="230.9" y="470.8" width="24.1" height="11.4" fill="#00a4ff"/>
<rect x="257.1" y="470.8" width="24.1" height="11.4" fill="#00ccff"/>
<rect x="283.2" y="470.8" width="24.1" height="11.4" fill="#00f4ff"/>
<rect x="309.3" y="470.8" width="24.1" height="11.4" fill="#00f000"/>
<rect x="335.4" y="470.8" width="24.1" height="11.4" fill="#a0f800"/>
<rect x="361.5" y="470.8" width="24.1" height="11.4" fill="#ffff00"/>
<rect x="387.7" y="470.8" width="24.1" height="11.4" fill="#ffd200"/>
<rect x="413.8" y="470.8" width="24.1" height="11.4" fill="#ff8a00"/>
<rect x="439.9" y="470.8" width="24.1" height="11.4" fill="#ff5c00"/>
<rect x="466" y="470.8" width="24.1" height="11.4" fill="#ff2c00"/>
<rect x="492.1" y="470.8" width="24.1" height="11.4" fill="#ff0000"/>
<rect x="518.3" y="470.8" width="24.1" height="11.4" fill="#f40000"/>
<rect x="544.4" y="470.8" width="24.1" height="11.4" fill="#c80000"/>
<rect x="570.5" y="470.8" width="24.1" height="11.4" fill="#a40000"/>
<rect x="596.6" y="470.8" width="24.1" height="11.4" fill="#7c0000"/>
<rect x="622.7" y="470.8" width="24.1" height="11.4" fill="#540000"/>
<rect x="648.9" y="470.8" width="24.1" height="11.4" fill="#2c0000"/>
<text class="a" x="77" y="497.5" textLength="26" lengthAdjust="spacing">-40</text>
<text class="a" x="182" y="497.5" textLength="26" lengthAdjust="spacing">-20</text>
<text class="a" x="294" y="497.5" textLength="18" lengthAdjust="spacing">00</text>
<text class="a" x="398.5" y="497.5" textLength="18" lengthAdjust="spacing">20</text>
<text class="a" x="504" y="497.5" textLength="18" lengthAdjust="spacing">40</text>
<text class="a" x="608" y="497.5" textLength="18" lengthAdjust="spacing">60</text>
<text class="a" x="351" y="514.5" textLength="23" lengthAdjust="spacing">cm</text>
</svg></body></html>
